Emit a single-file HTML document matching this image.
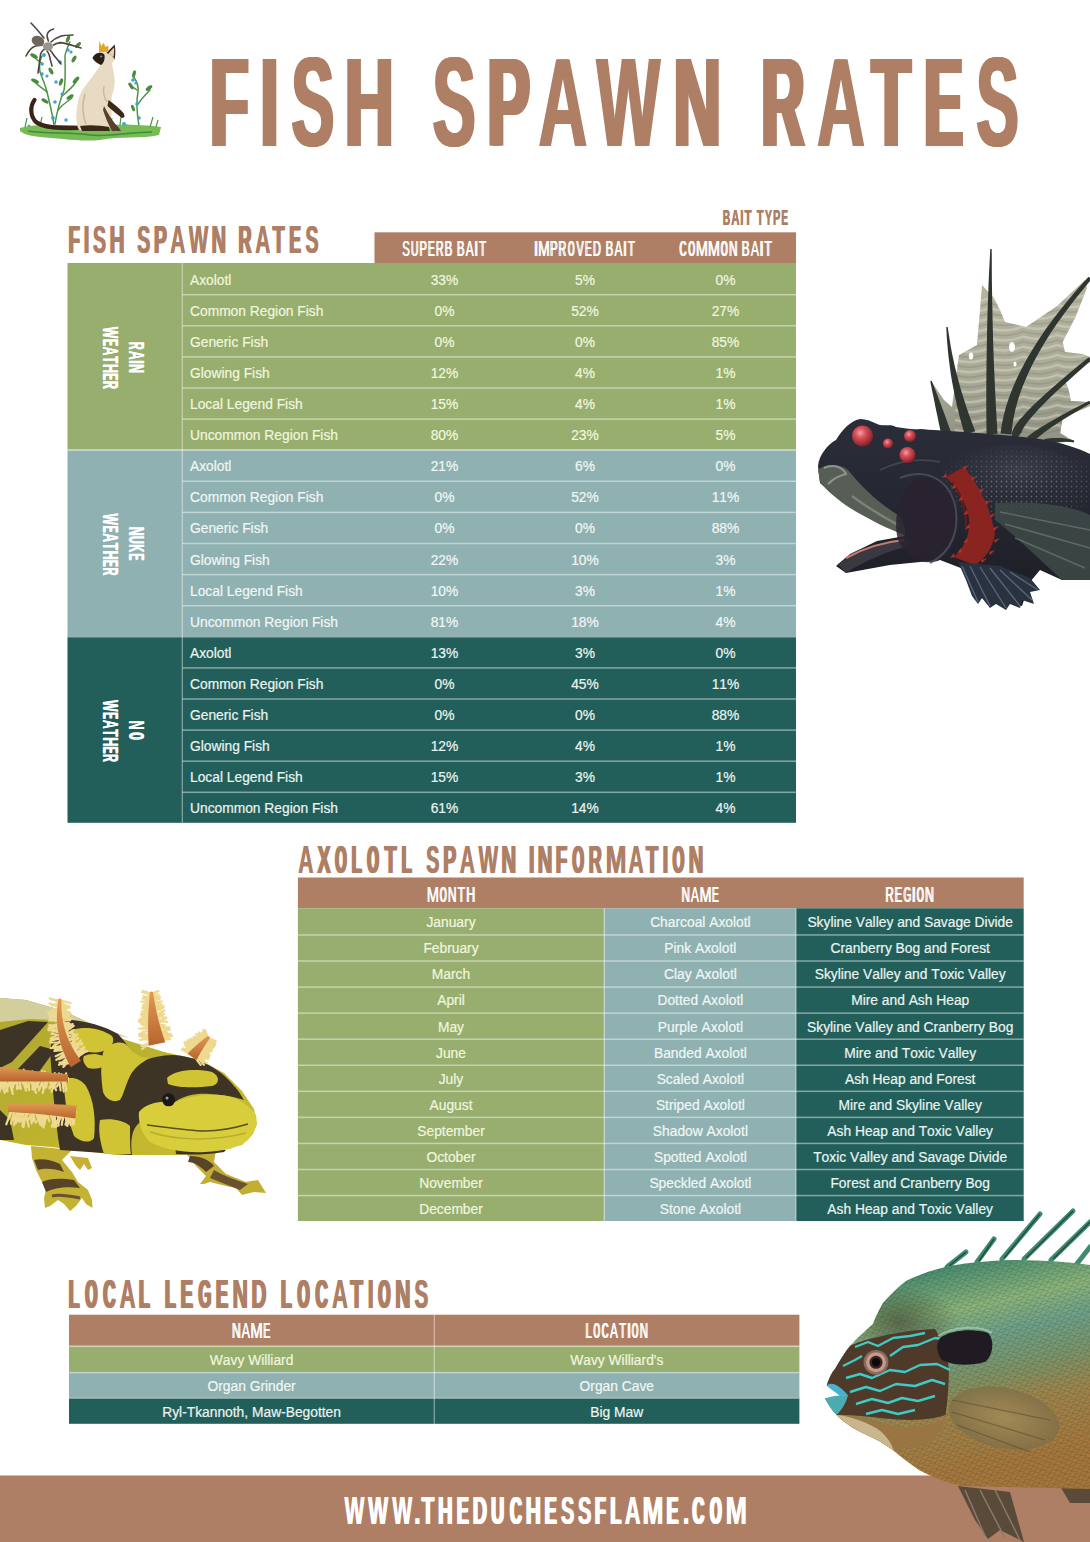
<!DOCTYPE html>
<html><head><meta charset="utf-8"><title>Fish Spawn Rates</title>
<style>
html,body{margin:0;padding:0;background:#fff;}
.page{position:relative;width:1090px;height:1542px;overflow:hidden;background:#fff;}
svg{display:block;font-family:"Liberation Sans",sans-serif;}
svg text{font-kerning:none;}
</style></head><body><div class="page">
<svg width="1090" height="1542" viewBox="0 0 1090 1542">
<g id="cat">
<!-- plant stems -->
<g stroke="#4f9446" stroke-width="1.5" fill="none" stroke-linecap="round">
<path d="M54,125 C52,112 49,100 47,92 C45,84 42,78 40,72 C39,66 40,60 42,56"/>
<path d="M55,124 C57,112 60,100 64,90 C66,80 65,66 65,56 C66,50 68,46 70,42"/>
<path d="M47,92 C43,88 38,86 35,82"/>
<path d="M62,96 C67,92 72,88 76,82"/>
<path d="M58,110 C63,104 68,101 72,98"/>
<path d="M43,64 C40,62 37,60 34,57"/>
<path d="M139,126 C137,114 136,102 138,92 C139,86 136,80 133,76"/>
<path d="M138,104 C142,98 146,94 150,90"/>
<path d="M137,90 C134,88 131,86 129,84"/>
</g>
<g fill="#4b8b40">
<ellipse cx="35" cy="81" rx="4.2" ry="1.9" transform="rotate(25 35 81)"/>
<ellipse cx="34" cy="56" rx="4.2" ry="1.9" transform="rotate(30 34 56)"/>
<ellipse cx="76" cy="80" rx="4.2" ry="1.9" transform="rotate(-45 76 80)"/>
<ellipse cx="74" cy="59" rx="3.8" ry="1.8" transform="rotate(-60 74 59)"/>
<ellipse cx="68" cy="39" rx="3.8" ry="1.8" transform="rotate(-70 68 39)"/>
<ellipse cx="78" cy="45" rx="3.8" ry="1.8" transform="rotate(-45 78 45)"/>
<ellipse cx="51" cy="71" rx="3.8" ry="1.8" transform="rotate(60 51 71)"/>
<ellipse cx="45" cy="101" rx="4" ry="1.8" transform="rotate(30 45 101)"/>
<ellipse cx="70" cy="97" rx="4" ry="1.8" transform="rotate(-30 70 97)"/>
<ellipse cx="61" cy="82" rx="3.8" ry="1.8" transform="rotate(-70 61 82)"/>
<ellipse cx="149" cy="88" rx="4" ry="1.8" transform="rotate(-40 149 88)"/>
<ellipse cx="131" cy="86" rx="3.8" ry="1.7" transform="rotate(60 131 86)"/>
<ellipse cx="134" cy="74" rx="3.8" ry="1.7" transform="rotate(-75 134 74)"/>
<ellipse cx="133" cy="108" rx="3.5" ry="1.6" transform="rotate(70 133 108)"/>
</g>
<g fill="#3aa4d4">
<circle cx="44" cy="55" r="1.9"/><circle cx="42" cy="64" r="1.7"/><circle cx="42" cy="74" r="1.8"/><circle cx="47" cy="76" r="1.6"/>
<circle cx="60" cy="62" r="1.8"/><circle cx="68" cy="50" r="1.7"/><circle cx="71" cy="52" r="1.6"/><circle cx="56" cy="82" r="1.7"/>
<circle cx="55" cy="102" r="1.8"/><circle cx="53" cy="118" r="1.9"/><circle cx="66" cy="120" r="1.7"/><circle cx="62" cy="94" r="1.6"/>
<circle cx="29" cy="126" r="1.6"/><circle cx="133" cy="80" r="1.8"/><circle cx="136" cy="83" r="1.6"/><circle cx="137" cy="104" r="1.8"/>
<circle cx="139" cy="118" r="1.8"/><circle cx="124" cy="124" r="2"/><circle cx="127" cy="126" r="1.7"/><circle cx="136" cy="127" r="1.7"/>
</g>
<!-- spider -->
<g stroke="#4c433b" stroke-width="1.6" fill="none" stroke-linecap="round">
<path d="M31,23 C36,28 40,33 44,38"/>
<path d="M53.5,29 C50,30 47,32 47,36 C47.5,38 48,40 48.4,41"/>
<path d="M73,35 C68,35 63,35.5 60,36.5 C56,38 53,40 51,42"/>
<path d="M81,48 C74,46 66,43 60,42.6 C57,43 55,44 53.5,45"/>
<path d="M26,56 C28,52 31,48 34.3,46.5 C37,45.5 40,45.2 42,45.2"/>
<path d="M38,73 C39,66 40,58 40.7,53.5 C42,51 44,49 45.8,48.4"/>
<path d="M61,64 C58,60 55,57 53.5,54.8 C52,52 51,51 49.7,49.7"/>
<path d="M52,66 C51,62 50,59 49.7,56.7 C49,54 48,52 47,51"/>
</g>
<ellipse cx="38" cy="41" rx="6.5" ry="5" fill="#6e665c" transform="rotate(20 38 41)"/>
<ellipse cx="48" cy="46.5" rx="5" ry="4.2" fill="#9b948a"/>
<!-- grass -->
<path d="M20,128 C32,124 50,125 72,125 C100,126 130,123 161,127 L159,135 C142,139 120,136 100,140 C80,142 58,138 40,137 C30,136 23,134 20,131 Z" fill="#76bb54"/>
<path d="M28,131 C48,134 70,132 90,135 C110,137 130,132 152,132" stroke="#3f8d3c" stroke-width="1.5" fill="none"/>
<path d="M25,127 L27,118 M40,126 L42,117 M150,127 L153,117 M120,125 L121,116 M110,126 L112,118 M156,127 L158,120" stroke="#4a9a44" stroke-width="1.2"/>
<!-- tail -->
<path d="M34.5,100 C30,106 30,116 36,122 C44,128 60,128.5 78,128" stroke="#3a2418" stroke-width="4.2" fill="none" stroke-linecap="round"/>
<!-- cat body -->
<path d="M100.5,65 C96,72 88,82 82.5,90 C77.5,98 76,110 76.5,120 C77,126 78,129 80,130.5 L109,130.5 C112,120 112,108 111.5,97 C114,90 115,85 114.7,80 C114,72 112.5,66 111.5,62 Z" fill="#e8dbc4"/>
<path d="M85,94 C82,104 82,114 86,124" stroke="#cdb89c" stroke-width="1.6" fill="none"/>
<path d="M104,86 C103,92 104,98 107,102" stroke="#cdb89c" stroke-width="1.4" fill="none"/>
<!-- legs dark -->
<path d="M108.5,100 C114,104 119,108 122.5,112 C125.5,115 125,118 122,118 C118,115 112,110 107.5,106 Z" fill="#3a2818"/>
<path d="M104,106 C108,114 113,122 119,128 L121,131 L112,131 C108,124 105,116 103,110 Z" fill="#5a4030"/>
<path d="M80,126 C90,124.5 100,125.5 109,127 L110,131 L82,131 Z" fill="#3a2818"/>
<!-- head -->
<path d="M92.4,57.7 C94,55 96,53.5 98,53 C101,52 104,52 106.3,53 C109,50 112,47 114.7,44.4 C115.5,49 115.5,55 114.7,59.6 C113,62 112,63.5 111.5,64.2 C108,65.5 104,66 101,65.5 C97,63.5 94,61 92.4,57.7 Z" fill="#e8dbc4"/>
<path d="M92.4,57.7 C94,55 96,53.5 98,53 C101,52.5 103.5,53 104.5,55 C105,59 104,63 101,65 C97,63 94,61 92.4,57.7 Z" fill="#2e1e16"/>
<path d="M106.3,53 C109,50 112,47 114.7,44.4 C115.5,49 115.5,55 114.7,59.6 C113,56 111,54 106.3,53 Z" fill="#3a2818"/>
<path d="M108.5,53.5 C110.5,51 112.5,49 114,47.5 C114.3,51 114,54 113.5,57 C112,55.5 110,54 108.5,53.5 Z" fill="#e6d2b8"/>
<circle cx="101.2" cy="56.5" r="1.1" fill="#3aa4d4"/>
<!-- crown -->
<path d="M99,52.5 L99.2,40.5 L101.5,46 L103.7,42.8 L105.5,47 L108.3,45.5 L108.5,51.5 Z" fill="#e3a526"/>
</g>

<g fill="#ae7f65" font-family="Liberation Sans" font-weight="bold" font-size="125.73" style="font-kerning:none"><g transform="scale(0.49475,1)"><text x="420.29" y="146.00">F</text><text x="422.69" y="146.00">F</text><text x="425.08" y="146.00">F</text><text x="427.48" y="146.00">F</text><text x="429.88" y="146.00">F</text></g><g transform="scale(0.50000,1)"><text x="516.79" y="146.00">I</text><text x="519.11" y="146.00">I</text><text x="521.43" y="146.00">I</text><text x="523.76" y="146.00">I</text><text x="526.08" y="146.00">I</text></g><g transform="scale(0.50942,1)"><text x="569.18" y="146.00">S</text><text x="571.16" y="146.00">S</text><text x="573.15" y="146.00">S</text><text x="575.13" y="146.00">S</text></g><g transform="scale(0.54292,1)"><text x="631.27" y="146.00">H</text><text x="633.06" y="146.00">H</text><text x="634.84" y="146.00">H</text><text x="636.62" y="146.00">H</text><text x="638.40" y="146.00">H</text></g><g transform="scale(0.50942,1)"><text x="846.56" y="146.00">S</text><text x="848.54" y="146.00">S</text><text x="850.52" y="146.00">S</text><text x="852.50" y="146.00">S</text></g><g transform="scale(0.50333,1)"><text x="964.31" y="146.00">P</text><text x="966.58" y="146.00">P</text><text x="968.86" y="146.00">P</text><text x="971.14" y="146.00">P</text><text x="973.42" y="146.00">P</text></g><g transform="scale(0.53836,1)"><text x="998.25" y="146.00">A</text><text x="1000.09" y="146.00">A</text><text x="1001.94" y="146.00">A</text></g><g transform="scale(0.53277,1)"><text x="1117.81" y="146.00">W</text><text x="1119.37" y="146.00">W</text><text x="1120.94" y="146.00">W</text><text x="1122.51" y="146.00">W</text></g><g transform="scale(0.52142,1)"><text x="1287.85" y="146.00">N</text><text x="1289.89" y="146.00">N</text><text x="1291.94" y="146.00">N</text><text x="1293.98" y="146.00">N</text><text x="1296.02" y="146.00">N</text></g><g transform="scale(0.46514,1)"><text x="1632.18" y="146.00">R</text><text x="1634.45" y="146.00">R</text><text x="1636.72" y="146.00">R</text><text x="1638.99" y="146.00">R</text><text x="1641.26" y="146.00">R</text><text x="1643.53" y="146.00">R</text></g><g transform="scale(0.52887,1)"><text x="1542.79" y="146.00">A</text><text x="1544.67" y="146.00">A</text><text x="1546.56" y="146.00">A</text></g><g transform="scale(0.50597,1)"><text x="1718.64" y="146.00">T</text><text x="1720.88" y="146.00">T</text><text x="1723.12" y="146.00">T</text><text x="1725.36" y="146.00">T</text><text x="1727.61" y="146.00">T</text></g><g transform="scale(0.45010,1)"><text x="2048.45" y="146.00">E</text><text x="2050.92" y="146.00">E</text><text x="2053.39" y="146.00">E</text><text x="2055.85" y="146.00">E</text><text x="2058.32" y="146.00">E</text><text x="2060.79" y="146.00">E</text></g><g transform="scale(0.50146,1)"><text x="1944.30" y="146.00">S</text><text x="1946.32" y="146.00">S</text><text x="1948.33" y="146.00">S</text><text x="1950.34" y="146.00">S</text></g></g>
<g fill="#ae7f65" font-family="Liberation Sans" font-weight="bold" font-size="38.66" style="font-kerning:none"><g transform="scale(0.47341,1)"><text x="143.17" y="253.50">F</text><text x="144.88" y="253.50">F</text><text x="146.59" y="253.50">F</text></g><g transform="scale(0.50000,1)"><text x="166.29" y="253.50">I</text><text x="167.70" y="253.50">I</text><text x="169.12" y="253.50">I</text></g><g transform="scale(0.50527,1)"><text x="183.28" y="253.50">S</text><text x="185.12" y="253.50">S</text></g><g transform="scale(0.53473,1)"><text x="203.75" y="253.50">H</text><text x="204.95" y="253.50">H</text><text x="206.14" y="253.50">H</text></g><g transform="scale(0.50527,1)"><text x="270.73" y="253.50">S</text><text x="272.57" y="253.50">S</text></g><g transform="scale(0.49898,1)"><text x="307.09" y="253.50">P</text><text x="308.57" y="253.50">P</text><text x="310.05" y="253.50">P</text></g><g transform="scale(0.54043,1)"><text x="314.44" y="253.50">A</text><text x="315.57" y="253.50">A</text></g><g transform="scale(0.53030,1)"><text x="355.65" y="253.50">W</text><text x="357.11" y="253.50">W</text></g><g transform="scale(0.51768,1)"><text x="407.41" y="253.50">N</text><text x="408.74" y="253.50">N</text><text x="410.06" y="253.50">N</text></g><g transform="scale(0.46122,1)"><text x="515.55" y="253.50">R</text><text x="517.38" y="253.50">R</text><text x="519.21" y="253.50">R</text></g><g transform="scale(0.54043,1)"><text x="471.85" y="253.50">A</text><text x="472.98" y="253.50">A</text></g><g transform="scale(0.51035,1)"><text x="532.79" y="253.50">T</text><text x="534.18" y="253.50">T</text><text x="535.56" y="253.50">T</text></g><g transform="scale(0.44543,1)"><text x="647.79" y="253.50">E</text><text x="649.78" y="253.50">E</text><text x="651.78" y="253.50">E</text></g><g transform="scale(0.50527,1)"><text x="603.84" y="253.50">S</text><text x="605.68" y="253.50">S</text></g></g>
<g fill="#ae7f65" font-family="Liberation Sans" font-weight="bold" font-size="21.37" style="font-kerning:none"><g transform="scale(0.47207,1)"><text x="1530.76" y="225.00">B</text><text x="1532.35" y="225.00">B</text></g><g transform="scale(0.54001,1)"><text x="1353.84" y="225.00">A</text><text x="1354.46" y="225.00">A</text></g><g transform="scale(0.50000,1)"><text x="1479.84" y="225.00">I</text><text x="1481.40" y="225.00">I</text></g><g transform="scale(0.52526,1)"><text x="1417.02" y="225.00">T</text><text x="1418.14" y="225.00">T</text></g><g transform="scale(0.52526,1)"><text x="1440.24" y="225.00">T</text><text x="1441.36" y="225.00">T</text></g><g transform="scale(0.49112,1)"><text x="1556.99" y="225.00">Y</text><text x="1558.41" y="225.00">Y</text></g><g transform="scale(0.51472,1)"><text x="1501.07" y="225.00">P</text><text x="1502.28" y="225.00">P</text></g><g transform="scale(0.46140,1)"><text x="1692.72" y="225.00">E</text><text x="1694.43" y="225.00">E</text></g></g>
<rect x="374.50" y="232.30" width="421.50" height="30.70" fill="#ae7f65"/>
<g fill="#ffffff" font-family="Liberation Sans" font-weight="normal" font-size="22.53" style="font-kerning:none"><g transform="scale(0.50462,1)"><text x="796.80" y="256.50">S</text><text x="797.88" y="256.50">S</text></g><g transform="scale(0.45850,1)"><text x="895.18" y="256.50">U</text><text x="897.65" y="256.50">U</text></g><g transform="scale(0.49119,1)"><text x="852.79" y="256.50">P</text><text x="854.95" y="256.50">P</text></g><g transform="scale(0.42740,1)"><text x="1000.23" y="256.50">E</text><text x="1003.03" y="256.50">E</text></g><g transform="scale(0.46126,1)"><text x="943.95" y="256.50">R</text><text x="946.39" y="256.50">R</text></g><g transform="scale(0.49722,1)"><text x="893.33" y="256.50">B</text><text x="895.45" y="256.50">B</text></g><g transform="scale(0.49722,1)"><text x="918.04" y="256.50">B</text><text x="920.15" y="256.50">B</text></g><g transform="scale(0.52547,1)"><text x="886.09" y="256.50">A</text><text x="886.77" y="256.50">A</text></g><g transform="scale(0.50000,1)"><text x="948.08" y="256.50">I</text><text x="949.39" y="256.50">I</text><text x="950.70" y="256.50">I</text></g><g transform="scale(0.49031,1)"><text x="976.41" y="256.50">T</text><text x="978.58" y="256.50">T</text></g></g>
<g fill="#ffffff" font-family="Liberation Sans" font-weight="normal" font-size="22.53" style="font-kerning:none"><g transform="scale(0.50000,1)"><text x="1067.72" y="256.50">I</text><text x="1069.02" y="256.50">I</text><text x="1070.33" y="256.50">I</text></g><g transform="scale(0.61950,1)"><text x="867.89" y="256.50">M</text><text x="869.17" y="256.50">M</text></g><g transform="scale(0.49014,1)"><text x="1121.27" y="256.50">P</text><text x="1123.45" y="256.50">P</text></g><g transform="scale(0.46029,1)"><text x="1212.55" y="256.50">R</text><text x="1215.00" y="256.50">R</text></g><g transform="scale(0.36064,1)"><text x="1573.41" y="256.50">O</text><text x="1575.26" y="256.50">O</text><text x="1577.12" y="256.50">O</text></g><g transform="scale(0.47917,1)"><text x="1201.83" y="256.50">V</text><text x="1204.11" y="256.50">V</text></g><g transform="scale(0.42646,1)"><text x="1370.79" y="256.50">E</text><text x="1373.60" y="256.50">E</text></g><g transform="scale(0.48284,1)"><text x="1226.99" y="256.50">D</text><text x="1229.23" y="256.50">D</text></g><g transform="scale(0.49616,1)"><text x="1219.77" y="256.50">B</text><text x="1221.89" y="256.50">B</text></g><g transform="scale(0.52465,1)"><text x="1170.95" y="256.50">A</text><text x="1171.63" y="256.50">A</text></g><g transform="scale(0.50000,1)"><text x="1245.51" y="256.50">I</text><text x="1246.82" y="256.50">I</text><text x="1248.12" y="256.50">I</text></g><g transform="scale(0.48929,1)"><text x="1282.38" y="256.50">T</text><text x="1284.57" y="256.50">T</text></g></g>
<g fill="#ffffff" font-family="Liberation Sans" font-weight="normal" font-size="22.53" style="font-kerning:none"><g transform="scale(0.41956,1)"><text x="1618.17" y="256.50">C</text><text x="1619.61" y="256.50">C</text><text x="1621.06" y="256.50">C</text></g><g transform="scale(0.37638,1)"><text x="1827.27" y="256.50">O</text><text x="1829.01" y="256.50">O</text><text x="1830.74" y="256.50">O</text></g><g transform="scale(0.64322,1)"><text x="1081.43" y="256.50">M</text><text x="1082.59" y="256.50">M</text></g><g transform="scale(0.64322,1)"><text x="1100.07" y="256.50">M</text><text x="1101.23" y="256.50">M</text></g><g transform="scale(0.37638,1)"><text x="1913.94" y="256.50">O</text><text x="1915.67" y="256.50">O</text><text x="1917.40" y="256.50">O</text></g><g transform="scale(0.52347,1)"><text x="1391.57" y="256.50">N</text><text x="1393.47" y="256.50">N</text></g><g transform="scale(0.51766,1)"><text x="1432.03" y="256.50">B</text><text x="1433.98" y="256.50">B</text></g><g transform="scale(0.54131,1)"><text x="1386.80" y="256.50">A</text><text x="1387.46" y="256.50">A</text></g><g transform="scale(0.50000,1)"><text x="1518.73" y="256.50">I</text><text x="1520.10" y="256.50">I</text><text x="1521.48" y="256.50">I</text></g><g transform="scale(0.51013,1)"><text x="1497.90" y="256.50">T</text><text x="1499.91" y="256.50">T</text></g></g>
<rect x="67.50" y="263.00" width="728.50" height="186.60" fill="#97ae6f"/>
<text x="190.00" y="284.60" fill="#f1f6df" stroke="#f1f6df" stroke-width="0.2" text-anchor="start" font-size="13.80">Axolotl</text>
<text x="444.50" y="284.60" fill="#f1f6df" stroke="#f1f6df" stroke-width="0.2" text-anchor="middle" font-size="13.80">33%</text>
<text x="585.00" y="284.60" fill="#f1f6df" stroke="#f1f6df" stroke-width="0.2" text-anchor="middle" font-size="13.80">5%</text>
<text x="725.50" y="284.60" fill="#f1f6df" stroke="#f1f6df" stroke-width="0.2" text-anchor="middle" font-size="13.80">0%</text>
<text x="190.00" y="315.70" fill="#f1f6df" stroke="#f1f6df" stroke-width="0.2" text-anchor="start" font-size="13.80">Common Region Fish</text>
<text x="444.50" y="315.70" fill="#f1f6df" stroke="#f1f6df" stroke-width="0.2" text-anchor="middle" font-size="13.80">0%</text>
<text x="585.00" y="315.70" fill="#f1f6df" stroke="#f1f6df" stroke-width="0.2" text-anchor="middle" font-size="13.80">52%</text>
<text x="725.50" y="315.70" fill="#f1f6df" stroke="#f1f6df" stroke-width="0.2" text-anchor="middle" font-size="13.80">27%</text>
<rect x="182.30" y="293.95" width="613.70" height="1.50" fill="rgba(255,255,255,0.45)"/>
<text x="190.00" y="346.80" fill="#f1f6df" stroke="#f1f6df" stroke-width="0.2" text-anchor="start" font-size="13.80">Generic Fish</text>
<text x="444.50" y="346.80" fill="#f1f6df" stroke="#f1f6df" stroke-width="0.2" text-anchor="middle" font-size="13.80">0%</text>
<text x="585.00" y="346.80" fill="#f1f6df" stroke="#f1f6df" stroke-width="0.2" text-anchor="middle" font-size="13.80">0%</text>
<text x="725.50" y="346.80" fill="#f1f6df" stroke="#f1f6df" stroke-width="0.2" text-anchor="middle" font-size="13.80">85%</text>
<rect x="182.30" y="325.05" width="613.70" height="1.50" fill="rgba(255,255,255,0.45)"/>
<text x="190.00" y="377.90" fill="#f1f6df" stroke="#f1f6df" stroke-width="0.2" text-anchor="start" font-size="13.80">Glowing Fish</text>
<text x="444.50" y="377.90" fill="#f1f6df" stroke="#f1f6df" stroke-width="0.2" text-anchor="middle" font-size="13.80">12%</text>
<text x="585.00" y="377.90" fill="#f1f6df" stroke="#f1f6df" stroke-width="0.2" text-anchor="middle" font-size="13.80">4%</text>
<text x="725.50" y="377.90" fill="#f1f6df" stroke="#f1f6df" stroke-width="0.2" text-anchor="middle" font-size="13.80">1%</text>
<rect x="182.30" y="356.15" width="613.70" height="1.50" fill="rgba(255,255,255,0.45)"/>
<text x="190.00" y="409.00" fill="#f1f6df" stroke="#f1f6df" stroke-width="0.2" text-anchor="start" font-size="13.80">Local Legend Fish</text>
<text x="444.50" y="409.00" fill="#f1f6df" stroke="#f1f6df" stroke-width="0.2" text-anchor="middle" font-size="13.80">15%</text>
<text x="585.00" y="409.00" fill="#f1f6df" stroke="#f1f6df" stroke-width="0.2" text-anchor="middle" font-size="13.80">4%</text>
<text x="725.50" y="409.00" fill="#f1f6df" stroke="#f1f6df" stroke-width="0.2" text-anchor="middle" font-size="13.80">1%</text>
<rect x="182.30" y="387.25" width="613.70" height="1.50" fill="rgba(255,255,255,0.45)"/>
<text x="190.00" y="440.10" fill="#f1f6df" stroke="#f1f6df" stroke-width="0.2" text-anchor="start" font-size="13.80">Uncommon Region Fish</text>
<text x="444.50" y="440.10" fill="#f1f6df" stroke="#f1f6df" stroke-width="0.2" text-anchor="middle" font-size="13.80">80%</text>
<text x="585.00" y="440.10" fill="#f1f6df" stroke="#f1f6df" stroke-width="0.2" text-anchor="middle" font-size="13.80">23%</text>
<text x="725.50" y="440.10" fill="#f1f6df" stroke="#f1f6df" stroke-width="0.2" text-anchor="middle" font-size="13.80">5%</text>
<rect x="182.30" y="418.35" width="613.70" height="1.50" fill="rgba(255,255,255,0.45)"/>
<g transform="rotate(90)">
<g fill="#ffffff" font-family="Liberation Sans" font-weight="bold" font-size="22.82" style="font-kerning:none"><g transform="scale(0.47524,1)"><text x="718.63" y="-129.50">R</text><text x="720.30" y="-129.50">R</text></g><g transform="scale(0.54043,1)"><text x="648.93" y="-129.50">A</text><text x="649.60" y="-129.50">A</text></g><g transform="scale(0.50000,1)"><text x="719.93" y="-129.50">I</text><text x="721.60" y="-129.50">I</text></g><g transform="scale(0.53318,1)"><text x="682.29" y="-129.50">N</text><text x="683.42" y="-129.50">N</text></g></g>
<g fill="#ffffff" font-family="Liberation Sans" font-weight="bold" font-size="22.82" style="font-kerning:none"><g transform="scale(0.53030,1)"><text x="615.85" y="-103.10">W</text><text x="616.71" y="-103.10">W</text></g><g transform="scale(0.46193,1)"><text x="732.90" y="-103.10">E</text><text x="734.71" y="-103.10">E</text></g><g transform="scale(0.54043,1)"><text x="641.14" y="-103.10">A</text><text x="641.81" y="-103.10">A</text></g><g transform="scale(0.52582,1)"><text x="676.56" y="-103.10">T</text><text x="677.75" y="-103.10">T</text></g><g transform="scale(0.55023,1)"><text x="661.11" y="-103.10">H</text><text x="662.10" y="-103.10">H</text></g><g transform="scale(0.46193,1)"><text x="807.15" y="-103.10">E</text><text x="808.96" y="-103.10">E</text></g><g transform="scale(0.47524,1)"><text x="800.85" y="-103.10">R</text><text x="802.52" y="-103.10">R</text></g></g>
</g>
<rect x="67.50" y="449.60" width="728.50" height="186.60" fill="#8fb1b1"/>
<text x="190.00" y="471.20" fill="#f0f7f5" stroke="#f0f7f5" stroke-width="0.2" text-anchor="start" font-size="13.80">Axolotl</text>
<text x="444.50" y="471.20" fill="#f0f7f5" stroke="#f0f7f5" stroke-width="0.2" text-anchor="middle" font-size="13.80">21%</text>
<text x="585.00" y="471.20" fill="#f0f7f5" stroke="#f0f7f5" stroke-width="0.2" text-anchor="middle" font-size="13.80">6%</text>
<text x="725.50" y="471.20" fill="#f0f7f5" stroke="#f0f7f5" stroke-width="0.2" text-anchor="middle" font-size="13.80">0%</text>
<text x="190.00" y="502.30" fill="#f0f7f5" stroke="#f0f7f5" stroke-width="0.2" text-anchor="start" font-size="13.80">Common Region Fish</text>
<text x="444.50" y="502.30" fill="#f0f7f5" stroke="#f0f7f5" stroke-width="0.2" text-anchor="middle" font-size="13.80">0%</text>
<text x="585.00" y="502.30" fill="#f0f7f5" stroke="#f0f7f5" stroke-width="0.2" text-anchor="middle" font-size="13.80">52%</text>
<text x="725.50" y="502.30" fill="#f0f7f5" stroke="#f0f7f5" stroke-width="0.2" text-anchor="middle" font-size="13.80">11%</text>
<rect x="182.30" y="480.55" width="613.70" height="1.50" fill="rgba(255,255,255,0.45)"/>
<text x="190.00" y="533.40" fill="#f0f7f5" stroke="#f0f7f5" stroke-width="0.2" text-anchor="start" font-size="13.80">Generic Fish</text>
<text x="444.50" y="533.40" fill="#f0f7f5" stroke="#f0f7f5" stroke-width="0.2" text-anchor="middle" font-size="13.80">0%</text>
<text x="585.00" y="533.40" fill="#f0f7f5" stroke="#f0f7f5" stroke-width="0.2" text-anchor="middle" font-size="13.80">0%</text>
<text x="725.50" y="533.40" fill="#f0f7f5" stroke="#f0f7f5" stroke-width="0.2" text-anchor="middle" font-size="13.80">88%</text>
<rect x="182.30" y="511.65" width="613.70" height="1.50" fill="rgba(255,255,255,0.45)"/>
<text x="190.00" y="564.50" fill="#f0f7f5" stroke="#f0f7f5" stroke-width="0.2" text-anchor="start" font-size="13.80">Glowing Fish</text>
<text x="444.50" y="564.50" fill="#f0f7f5" stroke="#f0f7f5" stroke-width="0.2" text-anchor="middle" font-size="13.80">22%</text>
<text x="585.00" y="564.50" fill="#f0f7f5" stroke="#f0f7f5" stroke-width="0.2" text-anchor="middle" font-size="13.80">10%</text>
<text x="725.50" y="564.50" fill="#f0f7f5" stroke="#f0f7f5" stroke-width="0.2" text-anchor="middle" font-size="13.80">3%</text>
<rect x="182.30" y="542.75" width="613.70" height="1.50" fill="rgba(255,255,255,0.45)"/>
<text x="190.00" y="595.60" fill="#f0f7f5" stroke="#f0f7f5" stroke-width="0.2" text-anchor="start" font-size="13.80">Local Legend Fish</text>
<text x="444.50" y="595.60" fill="#f0f7f5" stroke="#f0f7f5" stroke-width="0.2" text-anchor="middle" font-size="13.80">10%</text>
<text x="585.00" y="595.60" fill="#f0f7f5" stroke="#f0f7f5" stroke-width="0.2" text-anchor="middle" font-size="13.80">3%</text>
<text x="725.50" y="595.60" fill="#f0f7f5" stroke="#f0f7f5" stroke-width="0.2" text-anchor="middle" font-size="13.80">1%</text>
<rect x="182.30" y="573.85" width="613.70" height="1.50" fill="rgba(255,255,255,0.45)"/>
<text x="190.00" y="626.70" fill="#f0f7f5" stroke="#f0f7f5" stroke-width="0.2" text-anchor="start" font-size="13.80">Uncommon Region Fish</text>
<text x="444.50" y="626.70" fill="#f0f7f5" stroke="#f0f7f5" stroke-width="0.2" text-anchor="middle" font-size="13.80">81%</text>
<text x="585.00" y="626.70" fill="#f0f7f5" stroke="#f0f7f5" stroke-width="0.2" text-anchor="middle" font-size="13.80">18%</text>
<text x="725.50" y="626.70" fill="#f0f7f5" stroke="#f0f7f5" stroke-width="0.2" text-anchor="middle" font-size="13.80">4%</text>
<rect x="182.30" y="604.95" width="613.70" height="1.50" fill="rgba(255,255,255,0.45)"/>
<rect x="67.50" y="449.45" width="728.50" height="1.50" fill="rgba(255,255,255,0.45)"/>
<g transform="rotate(90)">
<g fill="#ffffff" font-family="Liberation Sans" font-weight="bold" font-size="22.82" style="font-kerning:none"><g transform="scale(0.53318,1)"><text x="987.55" y="-129.50">N</text><text x="988.68" y="-129.50">N</text></g><g transform="scale(0.48017,1)"><text x="1115.39" y="-129.50">U</text><text x="1117.01" y="-129.50">U</text></g><g transform="scale(0.47969,1)"><text x="1134.06" y="-129.50">K</text><text x="1135.68" y="-129.50">K</text></g><g transform="scale(0.46193,1)"><text x="1197.14" y="-129.50">E</text><text x="1198.96" y="-129.50">E</text></g></g>
<g fill="#ffffff" font-family="Liberation Sans" font-weight="bold" font-size="22.82" style="font-kerning:none"><g transform="scale(0.53030,1)"><text x="967.73" y="-103.10">W</text><text x="968.59" y="-103.10">W</text></g><g transform="scale(0.46193,1)"><text x="1136.86" y="-103.10">E</text><text x="1138.67" y="-103.10">E</text></g><g transform="scale(0.54043,1)"><text x="986.42" y="-103.10">A</text><text x="987.09" y="-103.10">A</text></g><g transform="scale(0.52582,1)"><text x="1031.44" y="-103.10">T</text><text x="1032.63" y="-103.10">T</text></g><g transform="scale(0.55023,1)"><text x="1000.24" y="-103.10">H</text><text x="1001.24" y="-103.10">H</text></g><g transform="scale(0.46193,1)"><text x="1211.11" y="-103.10">E</text><text x="1212.92" y="-103.10">E</text></g><g transform="scale(0.47524,1)"><text x="1193.49" y="-103.10">R</text><text x="1195.16" y="-103.10">R</text></g></g>
</g>
<rect x="67.50" y="636.20" width="728.50" height="186.60" fill="#225f5a"/>
<text x="190.00" y="657.80" fill="#eaf4f0" stroke="#eaf4f0" stroke-width="0.2" text-anchor="start" font-size="13.80">Axolotl</text>
<text x="444.50" y="657.80" fill="#eaf4f0" stroke="#eaf4f0" stroke-width="0.2" text-anchor="middle" font-size="13.80">13%</text>
<text x="585.00" y="657.80" fill="#eaf4f0" stroke="#eaf4f0" stroke-width="0.2" text-anchor="middle" font-size="13.80">3%</text>
<text x="725.50" y="657.80" fill="#eaf4f0" stroke="#eaf4f0" stroke-width="0.2" text-anchor="middle" font-size="13.80">0%</text>
<text x="190.00" y="688.90" fill="#eaf4f0" stroke="#eaf4f0" stroke-width="0.2" text-anchor="start" font-size="13.80">Common Region Fish</text>
<text x="444.50" y="688.90" fill="#eaf4f0" stroke="#eaf4f0" stroke-width="0.2" text-anchor="middle" font-size="13.80">0%</text>
<text x="585.00" y="688.90" fill="#eaf4f0" stroke="#eaf4f0" stroke-width="0.2" text-anchor="middle" font-size="13.80">45%</text>
<text x="725.50" y="688.90" fill="#eaf4f0" stroke="#eaf4f0" stroke-width="0.2" text-anchor="middle" font-size="13.80">11%</text>
<rect x="182.30" y="667.15" width="613.70" height="1.50" fill="rgba(255,255,255,0.45)"/>
<text x="190.00" y="720.00" fill="#eaf4f0" stroke="#eaf4f0" stroke-width="0.2" text-anchor="start" font-size="13.80">Generic Fish</text>
<text x="444.50" y="720.00" fill="#eaf4f0" stroke="#eaf4f0" stroke-width="0.2" text-anchor="middle" font-size="13.80">0%</text>
<text x="585.00" y="720.00" fill="#eaf4f0" stroke="#eaf4f0" stroke-width="0.2" text-anchor="middle" font-size="13.80">0%</text>
<text x="725.50" y="720.00" fill="#eaf4f0" stroke="#eaf4f0" stroke-width="0.2" text-anchor="middle" font-size="13.80">88%</text>
<rect x="182.30" y="698.25" width="613.70" height="1.50" fill="rgba(255,255,255,0.45)"/>
<text x="190.00" y="751.10" fill="#eaf4f0" stroke="#eaf4f0" stroke-width="0.2" text-anchor="start" font-size="13.80">Glowing Fish</text>
<text x="444.50" y="751.10" fill="#eaf4f0" stroke="#eaf4f0" stroke-width="0.2" text-anchor="middle" font-size="13.80">12%</text>
<text x="585.00" y="751.10" fill="#eaf4f0" stroke="#eaf4f0" stroke-width="0.2" text-anchor="middle" font-size="13.80">4%</text>
<text x="725.50" y="751.10" fill="#eaf4f0" stroke="#eaf4f0" stroke-width="0.2" text-anchor="middle" font-size="13.80">1%</text>
<rect x="182.30" y="729.35" width="613.70" height="1.50" fill="rgba(255,255,255,0.45)"/>
<text x="190.00" y="782.20" fill="#eaf4f0" stroke="#eaf4f0" stroke-width="0.2" text-anchor="start" font-size="13.80">Local Legend Fish</text>
<text x="444.50" y="782.20" fill="#eaf4f0" stroke="#eaf4f0" stroke-width="0.2" text-anchor="middle" font-size="13.80">15%</text>
<text x="585.00" y="782.20" fill="#eaf4f0" stroke="#eaf4f0" stroke-width="0.2" text-anchor="middle" font-size="13.80">3%</text>
<text x="725.50" y="782.20" fill="#eaf4f0" stroke="#eaf4f0" stroke-width="0.2" text-anchor="middle" font-size="13.80">1%</text>
<rect x="182.30" y="760.45" width="613.70" height="1.50" fill="rgba(255,255,255,0.45)"/>
<text x="190.00" y="813.30" fill="#eaf4f0" stroke="#eaf4f0" stroke-width="0.2" text-anchor="start" font-size="13.80">Uncommon Region Fish</text>
<text x="444.50" y="813.30" fill="#eaf4f0" stroke="#eaf4f0" stroke-width="0.2" text-anchor="middle" font-size="13.80">61%</text>
<text x="585.00" y="813.30" fill="#eaf4f0" stroke="#eaf4f0" stroke-width="0.2" text-anchor="middle" font-size="13.80">14%</text>
<text x="725.50" y="813.30" fill="#eaf4f0" stroke="#eaf4f0" stroke-width="0.2" text-anchor="middle" font-size="13.80">4%</text>
<rect x="182.30" y="791.55" width="613.70" height="1.50" fill="rgba(255,255,255,0.45)"/>
<rect x="67.50" y="636.05" width="728.50" height="1.50" fill="rgba(255,255,255,0.45)"/>
<g transform="rotate(90)">
<g fill="#ffffff" font-family="Liberation Sans" font-weight="bold" font-size="22.82" style="font-kerning:none"><g transform="scale(0.53318,1)"><text x="1351.31" y="-129.50">N</text><text x="1352.44" y="-129.50">N</text></g><g transform="scale(0.38970,1)"><text x="1878.58" y="-129.50">O</text><text x="1881.34" y="-129.50">O</text></g></g>
<g fill="#ffffff" font-family="Liberation Sans" font-weight="bold" font-size="22.82" style="font-kerning:none"><g transform="scale(0.53030,1)"><text x="1319.60" y="-103.10">W</text><text x="1320.46" y="-103.10">W</text></g><g transform="scale(0.46193,1)"><text x="1540.82" y="-103.10">E</text><text x="1542.63" y="-103.10">E</text></g><g transform="scale(0.54043,1)"><text x="1331.70" y="-103.10">A</text><text x="1332.37" y="-103.10">A</text></g><g transform="scale(0.52582,1)"><text x="1386.31" y="-103.10">T</text><text x="1387.50" y="-103.10">T</text></g><g transform="scale(0.55023,1)"><text x="1339.38" y="-103.10">H</text><text x="1340.37" y="-103.10">H</text></g><g transform="scale(0.46193,1)"><text x="1615.07" y="-103.10">E</text><text x="1616.88" y="-103.10">E</text></g><g transform="scale(0.47524,1)"><text x="1586.14" y="-103.10">R</text><text x="1587.81" y="-103.10">R</text></g></g>
</g>
<rect x="181.70" y="263.00" width="1.20" height="559.80" fill="rgba(255,255,255,0.45)"/>
<g fill="#ae7f65" font-family="Liberation Sans" font-weight="bold" font-size="38.95" style="font-kerning:none"><g transform="scale(0.54043,1)"><text x="551.36" y="873.50">A</text><text x="552.50" y="873.50">A</text></g><g transform="scale(0.50367,1)"><text x="628.84" y="873.50">X</text><text x="630.30" y="873.50">X</text><text x="631.75" y="873.50">X</text></g><g transform="scale(0.37721,1)"><text x="885.88" y="873.50">O</text><text x="888.76" y="873.50">O</text><text x="891.64" y="873.50">O</text></g><g transform="scale(0.42862,1)"><text x="818.24" y="873.50">L</text><text x="820.43" y="873.50">L</text><text x="822.63" y="873.50">L</text></g><g transform="scale(0.37721,1)"><text x="971.25" y="873.50">O</text><text x="974.13" y="873.50">O</text><text x="977.01" y="873.50">O</text></g><g transform="scale(0.51035,1)"><text x="752.05" y="873.50">T</text><text x="753.44" y="873.50">T</text><text x="754.84" y="873.50">T</text></g><g transform="scale(0.42862,1)"><text x="934.94" y="873.50">L</text><text x="937.14" y="873.50">L</text><text x="939.33" y="873.50">L</text></g><g transform="scale(0.50527,1)"><text x="842.69" y="873.50">S</text><text x="844.55" y="873.50">S</text></g><g transform="scale(0.49898,1)"><text x="886.76" y="873.50">P</text><text x="888.25" y="873.50">P</text><text x="889.74" y="873.50">P</text></g><g transform="scale(0.54043,1)"><text x="850.05" y="873.50">A</text><text x="851.20" y="873.50">A</text></g><g transform="scale(0.53030,1)"><text x="901.94" y="873.50">W</text><text x="903.41" y="873.50">W</text></g><g transform="scale(0.51768,1)"><text x="967.53" y="873.50">N</text><text x="968.87" y="873.50">N</text><text x="970.20" y="873.50">N</text></g><g transform="scale(0.50000,1)"><text x="1056.42" y="873.50">I</text><text x="1057.84" y="873.50">I</text><text x="1059.27" y="873.50">I</text></g><g transform="scale(0.51768,1)"><text x="1037.48" y="873.50">N</text><text x="1038.82" y="873.50">N</text><text x="1040.16" y="873.50">N</text></g><g transform="scale(0.47341,1)"><text x="1172.61" y="873.50">F</text><text x="1174.33" y="873.50">F</text><text x="1176.06" y="873.50">F</text></g><g transform="scale(0.37721,1)"><text x="1514.87" y="873.50">O</text><text x="1517.75" y="873.50">O</text><text x="1520.63" y="873.50">O</text></g><g transform="scale(0.46122,1)"><text x="1274.64" y="873.50">R</text><text x="1276.48" y="873.50">R</text><text x="1278.33" y="873.50">R</text></g><g transform="scale(0.64436,1)"><text x="939.24" y="873.50">M</text><text x="940.28" y="873.50">M</text></g><g transform="scale(0.54043,1)"><text x="1162.48" y="873.50">A</text><text x="1163.62" y="873.50">A</text></g><g transform="scale(0.51035,1)"><text x="1264.48" y="873.50">T</text><text x="1265.88" y="873.50">T</text><text x="1267.28" y="873.50">T</text></g><g transform="scale(0.50000,1)"><text x="1324.14" y="873.50">I</text><text x="1325.57" y="873.50">I</text><text x="1327.00" y="873.50">I</text></g><g transform="scale(0.37721,1)"><text x="1780.69" y="873.50">O</text><text x="1783.57" y="873.50">O</text><text x="1786.45" y="873.50">O</text></g><g transform="scale(0.51768,1)"><text x="1329.04" y="873.50">N</text><text x="1330.37" y="873.50">N</text><text x="1331.71" y="873.50">N</text></g></g>
<rect x="297.90" y="877.50" width="725.80" height="30.80" fill="#ae7f65"/>
<g fill="#ffffff" font-family="Liberation Sans" font-weight="normal" font-size="22.38" style="font-kerning:none"><g transform="scale(0.65750,1)"><text x="648.50" y="901.80">M</text><text x="649.58" y="901.80">M</text></g><g transform="scale(0.38586,1)"><text x="1138.47" y="901.80">O</text><text x="1140.13" y="901.80">O</text><text x="1141.78" y="901.80">O</text></g><g transform="scale(0.53630,1)"><text x="834.28" y="901.80">N</text><text x="836.07" y="901.80">N</text></g><g transform="scale(0.52267,1)"><text x="875.03" y="901.80">T</text><text x="876.93" y="901.80">T</text></g><g transform="scale(0.55268,1)"><text x="842.70" y="901.80">H</text><text x="844.38" y="901.80">H</text></g></g>
<g fill="#ffffff" font-family="Liberation Sans" font-weight="normal" font-size="22.38" style="font-kerning:none"><g transform="scale(0.52222,1)"><text x="1304.12" y="901.80">N</text><text x="1306.02" y="901.80">N</text></g><g transform="scale(0.54034,1)"><text x="1278.33" y="901.80">A</text><text x="1278.98" y="901.80">A</text></g><g transform="scale(0.64184,1)"><text x="1089.34" y="901.80">M</text><text x="1090.50" y="901.80">M</text></g><g transform="scale(0.44457,1)"><text x="1600.27" y="901.80">E</text><text x="1602.86" y="901.80">E</text></g></g>
<g fill="#ffffff" font-family="Liberation Sans" font-weight="normal" font-size="22.38" style="font-kerning:none"><g transform="scale(0.50823,1)"><text x="1741.28" y="901.80">R</text><text x="1743.29" y="901.80">R</text></g><g transform="scale(0.47347,1)"><text x="1888.93" y="901.80">E</text><text x="1891.24" y="901.80">E</text></g><g transform="scale(0.43048,1)"><text x="2097.90" y="901.80">G</text><text x="2100.64" y="901.80">G</text></g><g transform="scale(0.50000,1)"><text x="1823.15" y="901.80">I</text><text x="1824.62" y="901.80">I</text><text x="1826.08" y="901.80">I</text></g><g transform="scale(0.39910,1)"><text x="2295.77" y="901.80">O</text><text x="2297.33" y="901.80">O</text><text x="2298.89" y="901.80">O</text></g><g transform="scale(0.55423,1)"><text x="1668.12" y="901.80">N</text><text x="1669.79" y="901.80">N</text></g></g>
<rect x="297.90" y="908.30" width="306.30" height="312.72" fill="#97ae6f"/>
<rect x="604.20" y="908.30" width="191.80" height="312.72" fill="#8fb1b1"/>
<rect x="796.00" y="908.30" width="227.70" height="312.72" fill="#225f5a"/>
<text x="451.00" y="927.30" fill="#f1f6df" stroke="#f1f6df" stroke-width="0.2" text-anchor="middle" font-size="13.80">January</text>
<text x="700.40" y="927.30" fill="#f0f7f5" stroke="#f0f7f5" stroke-width="0.2" text-anchor="middle" font-size="13.80">Charcoal Axolotl</text>
<text x="910.20" y="927.30" fill="#eaf4f0" stroke="#eaf4f0" stroke-width="0.2" text-anchor="middle" font-size="13.80">Skyline Valley and Savage Divide</text>
<text x="451.00" y="953.36" fill="#f1f6df" stroke="#f1f6df" stroke-width="0.2" text-anchor="middle" font-size="13.80">February</text>
<text x="700.40" y="953.36" fill="#f0f7f5" stroke="#f0f7f5" stroke-width="0.2" text-anchor="middle" font-size="13.80">Pink Axolotl</text>
<text x="910.20" y="953.36" fill="#eaf4f0" stroke="#eaf4f0" stroke-width="0.2" text-anchor="middle" font-size="13.80">Cranberry Bog and Forest</text>
<rect x="297.90" y="934.21" width="725.80" height="1.50" fill="rgba(255,255,255,0.45)"/>
<text x="451.00" y="979.42" fill="#f1f6df" stroke="#f1f6df" stroke-width="0.2" text-anchor="middle" font-size="13.80">March</text>
<text x="700.40" y="979.42" fill="#f0f7f5" stroke="#f0f7f5" stroke-width="0.2" text-anchor="middle" font-size="13.80">Clay Axolotl</text>
<text x="910.20" y="979.42" fill="#eaf4f0" stroke="#eaf4f0" stroke-width="0.2" text-anchor="middle" font-size="13.80">Skyline Valley and Toxic Valley</text>
<rect x="297.90" y="960.27" width="725.80" height="1.50" fill="rgba(255,255,255,0.45)"/>
<text x="451.00" y="1005.48" fill="#f1f6df" stroke="#f1f6df" stroke-width="0.2" text-anchor="middle" font-size="13.80">April</text>
<text x="700.40" y="1005.48" fill="#f0f7f5" stroke="#f0f7f5" stroke-width="0.2" text-anchor="middle" font-size="13.80">Dotted Axolotl</text>
<text x="910.20" y="1005.48" fill="#eaf4f0" stroke="#eaf4f0" stroke-width="0.2" text-anchor="middle" font-size="13.80">Mire and Ash Heap</text>
<rect x="297.90" y="986.33" width="725.80" height="1.50" fill="rgba(255,255,255,0.45)"/>
<text x="451.00" y="1031.54" fill="#f1f6df" stroke="#f1f6df" stroke-width="0.2" text-anchor="middle" font-size="13.80">May</text>
<text x="700.40" y="1031.54" fill="#f0f7f5" stroke="#f0f7f5" stroke-width="0.2" text-anchor="middle" font-size="13.80">Purple Axolotl</text>
<text x="910.20" y="1031.54" fill="#eaf4f0" stroke="#eaf4f0" stroke-width="0.2" text-anchor="middle" font-size="13.80">Skyline Valley and Cranberry Bog</text>
<rect x="297.90" y="1012.39" width="725.80" height="1.50" fill="rgba(255,255,255,0.45)"/>
<text x="451.00" y="1057.60" fill="#f1f6df" stroke="#f1f6df" stroke-width="0.2" text-anchor="middle" font-size="13.80">June</text>
<text x="700.40" y="1057.60" fill="#f0f7f5" stroke="#f0f7f5" stroke-width="0.2" text-anchor="middle" font-size="13.80">Banded Axolotl</text>
<text x="910.20" y="1057.60" fill="#eaf4f0" stroke="#eaf4f0" stroke-width="0.2" text-anchor="middle" font-size="13.80">Mire and Toxic Valley</text>
<rect x="297.90" y="1038.45" width="725.80" height="1.50" fill="rgba(255,255,255,0.45)"/>
<text x="451.00" y="1083.66" fill="#f1f6df" stroke="#f1f6df" stroke-width="0.2" text-anchor="middle" font-size="13.80">July</text>
<text x="700.40" y="1083.66" fill="#f0f7f5" stroke="#f0f7f5" stroke-width="0.2" text-anchor="middle" font-size="13.80">Scaled Axolotl</text>
<text x="910.20" y="1083.66" fill="#eaf4f0" stroke="#eaf4f0" stroke-width="0.2" text-anchor="middle" font-size="13.80">Ash Heap and Forest</text>
<rect x="297.90" y="1064.51" width="725.80" height="1.50" fill="rgba(255,255,255,0.45)"/>
<text x="451.00" y="1109.72" fill="#f1f6df" stroke="#f1f6df" stroke-width="0.2" text-anchor="middle" font-size="13.80">August</text>
<text x="700.40" y="1109.72" fill="#f0f7f5" stroke="#f0f7f5" stroke-width="0.2" text-anchor="middle" font-size="13.80">Striped Axolotl</text>
<text x="910.20" y="1109.72" fill="#eaf4f0" stroke="#eaf4f0" stroke-width="0.2" text-anchor="middle" font-size="13.80">Mire and Skyline Valley</text>
<rect x="297.90" y="1090.57" width="725.80" height="1.50" fill="rgba(255,255,255,0.45)"/>
<text x="451.00" y="1135.78" fill="#f1f6df" stroke="#f1f6df" stroke-width="0.2" text-anchor="middle" font-size="13.80">September</text>
<text x="700.40" y="1135.78" fill="#f0f7f5" stroke="#f0f7f5" stroke-width="0.2" text-anchor="middle" font-size="13.80">Shadow Axolotl</text>
<text x="910.20" y="1135.78" fill="#eaf4f0" stroke="#eaf4f0" stroke-width="0.2" text-anchor="middle" font-size="13.80">Ash Heap and Toxic Valley</text>
<rect x="297.90" y="1116.63" width="725.80" height="1.50" fill="rgba(255,255,255,0.45)"/>
<text x="451.00" y="1161.84" fill="#f1f6df" stroke="#f1f6df" stroke-width="0.2" text-anchor="middle" font-size="13.80">October</text>
<text x="700.40" y="1161.84" fill="#f0f7f5" stroke="#f0f7f5" stroke-width="0.2" text-anchor="middle" font-size="13.80">Spotted Axolotl</text>
<text x="910.20" y="1161.84" fill="#eaf4f0" stroke="#eaf4f0" stroke-width="0.2" text-anchor="middle" font-size="13.80">Toxic Valley and Savage Divide</text>
<rect x="297.90" y="1142.69" width="725.80" height="1.50" fill="rgba(255,255,255,0.45)"/>
<text x="451.00" y="1187.90" fill="#f1f6df" stroke="#f1f6df" stroke-width="0.2" text-anchor="middle" font-size="13.80">November</text>
<text x="700.40" y="1187.90" fill="#f0f7f5" stroke="#f0f7f5" stroke-width="0.2" text-anchor="middle" font-size="13.80">Speckled Axolotl</text>
<text x="910.20" y="1187.90" fill="#eaf4f0" stroke="#eaf4f0" stroke-width="0.2" text-anchor="middle" font-size="13.80">Forest and Cranberry Bog</text>
<rect x="297.90" y="1168.75" width="725.80" height="1.50" fill="rgba(255,255,255,0.45)"/>
<text x="451.00" y="1213.96" fill="#f1f6df" stroke="#f1f6df" stroke-width="0.2" text-anchor="middle" font-size="13.80">December</text>
<text x="700.40" y="1213.96" fill="#f0f7f5" stroke="#f0f7f5" stroke-width="0.2" text-anchor="middle" font-size="13.80">Stone Axolotl</text>
<text x="910.20" y="1213.96" fill="#eaf4f0" stroke="#eaf4f0" stroke-width="0.2" text-anchor="middle" font-size="13.80">Ash Heap and Toxic Valley</text>
<rect x="297.90" y="1194.81" width="725.80" height="1.50" fill="rgba(255,255,255,0.45)"/>
<rect x="603.60" y="908.30" width="1.20" height="312.72" fill="rgba(255,255,255,0.45)"/>
<rect x="795.40" y="908.30" width="1.20" height="312.72" fill="rgba(255,255,255,0.45)"/>
<g fill="#ae7f65" font-family="Liberation Sans" font-weight="bold" font-size="40.70" style="font-kerning:none"><g transform="scale(0.42862,1)"><text x="158.26" y="1308.10">L</text><text x="160.55" y="1308.10">L</text><text x="162.85" y="1308.10">L</text></g><g transform="scale(0.37721,1)"><text x="223.46" y="1308.10">O</text><text x="226.47" y="1308.10">O</text><text x="229.48" y="1308.10">O</text></g><g transform="scale(0.41700,1)"><text x="245.00" y="1308.10">C</text><text x="247.44" y="1308.10">C</text><text x="249.88" y="1308.10">C</text></g><g transform="scale(0.54043,1)"><text x="220.85" y="1308.10">A</text><text x="222.04" y="1308.10">A</text></g><g transform="scale(0.42862,1)"><text x="322.06" y="1308.10">L</text><text x="324.36" y="1308.10">L</text><text x="326.65" y="1308.10">L</text></g><g transform="scale(0.42862,1)"><text x="382.55" y="1308.10">L</text><text x="384.85" y="1308.10">L</text><text x="387.14" y="1308.10">L</text></g><g transform="scale(0.44543,1)"><text x="403.76" y="1308.10">E</text><text x="405.86" y="1308.10">E</text><text x="407.96" y="1308.10">E</text></g><g transform="scale(0.40181,1)"><text x="491.36" y="1308.10">G</text><text x="494.00" y="1308.10">G</text><text x="496.65" y="1308.10">G</text></g><g transform="scale(0.44543,1)"><text x="482.80" y="1308.10">E</text><text x="484.89" y="1308.10">E</text><text x="486.99" y="1308.10">E</text></g><g transform="scale(0.51768,1)"><text x="447.96" y="1308.10">N</text><text x="449.35" y="1308.10">N</text><text x="450.75" y="1308.10">N</text></g><g transform="scale(0.50579,1)"><text x="495.78" y="1308.10">D</text><text x="497.28" y="1308.10">D</text><text x="498.78" y="1308.10">D</text></g><g transform="scale(0.42862,1)"><text x="653.54" y="1308.10">L</text><text x="655.84" y="1308.10">L</text><text x="658.13" y="1308.10">L</text></g><g transform="scale(0.37721,1)"><text x="786.25" y="1308.10">O</text><text x="789.26" y="1308.10">O</text><text x="792.27" y="1308.10">O</text></g><g transform="scale(0.41700,1)"><text x="754.08" y="1308.10">C</text><text x="756.52" y="1308.10">C</text><text x="758.96" y="1308.10">C</text></g><g transform="scale(0.54043,1)"><text x="613.66" y="1308.10">A</text><text x="614.85" y="1308.10">A</text></g><g transform="scale(0.51035,1)"><text x="684.91" y="1308.10">T</text><text x="686.36" y="1308.10">T</text><text x="687.82" y="1308.10">T</text></g><g transform="scale(0.50000,1)"><text x="734.28" y="1308.10">I</text><text x="735.77" y="1308.10">I</text><text x="737.26" y="1308.10">I</text></g><g transform="scale(0.37721,1)"><text x="1000.23" y="1308.10">O</text><text x="1003.24" y="1308.10">O</text><text x="1006.25" y="1308.10">O</text></g><g transform="scale(0.51768,1)"><text x="761.97" y="1308.10">N</text><text x="763.37" y="1308.10">N</text><text x="764.77" y="1308.10">N</text></g><g transform="scale(0.50527,1)"><text x="819.57" y="1308.10">S</text><text x="821.51" y="1308.10">S</text></g></g>
<rect x="69.00" y="1314.70" width="730.40" height="31.10" fill="#ae7f65"/>
<rect x="69.00" y="1345.80" width="730.40" height="26.20" fill="#97ae6f"/>
<rect x="69.00" y="1372.00" width="730.40" height="25.60" fill="#8fb1b1"/>
<rect x="69.00" y="1397.60" width="730.40" height="26.20" fill="#225f5a"/>
<g fill="#ffffff" font-family="Liberation Sans" font-weight="normal" font-size="22.09" style="font-kerning:none"><g transform="scale(0.55071,1)"><text x="420.55" y="1338.40">N</text><text x="422.22" y="1338.40">N</text></g><g transform="scale(0.56261,1)"><text x="429.26" y="1338.40">A</text><text x="429.88" y="1338.40">A</text></g><g transform="scale(0.67354,1)"><text x="371.35" y="1338.40">M</text><text x="372.34" y="1338.40">M</text></g><g transform="scale(0.47029,1)"><text x="558.44" y="1338.40">E</text><text x="560.75" y="1338.40">E</text></g></g>
<g fill="#ffffff" font-family="Liberation Sans" font-weight="normal" font-size="22.09" style="font-kerning:none"><g transform="scale(0.48528,1)"><text x="1205.75" y="1338.40">L</text><text x="1207.92" y="1338.40">L</text></g><g transform="scale(0.36829,1)"><text x="1609.90" y="1338.40">O</text><text x="1611.66" y="1338.40">O</text><text x="1613.41" y="1338.40">O</text></g><g transform="scale(0.41061,1)"><text x="1464.21" y="1338.40">C</text><text x="1465.68" y="1338.40">C</text><text x="1467.15" y="1338.40">C</text></g><g transform="scale(0.53276,1)"><text x="1144.65" y="1338.40">A</text><text x="1145.30" y="1338.40">A</text></g><g transform="scale(0.49942,1)"><text x="1239.05" y="1338.40">T</text><text x="1241.10" y="1338.40">T</text></g><g transform="scale(0.50000,1)"><text x="1253.65" y="1338.40">I</text><text x="1254.96" y="1338.40">I</text><text x="1256.27" y="1338.40">I</text></g><g transform="scale(0.36829,1)"><text x="1714.17" y="1338.40">O</text><text x="1715.93" y="1338.40">O</text><text x="1717.69" y="1338.40">O</text></g><g transform="scale(0.51252,1)"><text x="1247.06" y="1338.40">N</text><text x="1249.01" y="1338.40">N</text></g></g>
<text x="251.60" y="1364.80" fill="#f1f6df" stroke="#f1f6df" stroke-width="0.2" text-anchor="middle" font-size="13.80">Wavy Williard</text>
<text x="616.80" y="1364.80" fill="#f1f6df" stroke="#f1f6df" stroke-width="0.2" text-anchor="middle" font-size="13.80">Wavy Williard&#39;s</text>
<text x="251.60" y="1391.00" fill="#f0f7f5" stroke="#f0f7f5" stroke-width="0.2" text-anchor="middle" font-size="13.80">Organ Grinder</text>
<text x="616.80" y="1391.00" fill="#f0f7f5" stroke="#f0f7f5" stroke-width="0.2" text-anchor="middle" font-size="13.80">Organ Cave</text>
<text x="251.60" y="1416.60" fill="#eaf4f0" stroke="#eaf4f0" stroke-width="0.2" text-anchor="middle" font-size="13.80">Ryl-Tkannoth, Maw-Begotten</text>
<text x="616.80" y="1416.60" fill="#eaf4f0" stroke="#eaf4f0" stroke-width="0.2" text-anchor="middle" font-size="13.80">Big Maw</text>
<rect x="69.00" y="1345.65" width="730.40" height="1.50" fill="rgba(255,255,255,0.45)"/>
<rect x="69.00" y="1371.85" width="730.40" height="1.50" fill="rgba(255,255,255,0.45)"/>
<rect x="69.00" y="1397.45" width="730.40" height="1.50" fill="rgba(255,255,255,0.45)"/>
<rect x="433.70" y="1314.70" width="1.20" height="109.10" fill="rgba(255,255,255,0.45)"/>
<g id="fish1">
<defs>
<linearGradient id="f1body" x1="0" y1="0" x2="0" y2="1">
<stop offset="0" stop-color="#2b2e3a"/><stop offset="0.55" stop-color="#23252f"/><stop offset="1" stop-color="#1c1d24"/>
</linearGradient>
<linearGradient id="f1fin" x1="0" y1="0" x2="0" y2="1">
<stop offset="0" stop-color="#b6b5a0"/><stop offset="0.6" stop-color="#a9a996"/><stop offset="1" stop-color="#8f9182"/>
</linearGradient>
<radialGradient id="f1eye" cx="0.4" cy="0.35" r="0.7">
<stop offset="0" stop-color="#f4a0a0"/><stop offset="0.35" stop-color="#d9505a"/><stop offset="1" stop-color="#7a1a22"/>
</radialGradient>
<radialGradient id="f1spk" cx="0.55" cy="0.35" r="0.6">
<stop offset="0" stop-color="#5d6270" stop-opacity="0.55"/><stop offset="1" stop-color="#2b2e3a" stop-opacity="0"/>
</radialGradient>
</defs>
<clipPath id="f1clip"><path d="M931,381 L944,400 L952,407 L957,370 L959,355 L977,345 L980,310 L982,285 L994,298 L1000,310 L1005,322 L1026,327 L1057,306 L1085,280 L1087,288 L1075.5,317 L1062.7,342 L1065,352 L1082.5,354 L1090,357 L1090,362 L1065,381 L1068.5,389 L1071,401 L1090,402 L1090,406 L1062.7,418 L1060.3,433 L1074,441.6 L1050,443 L944,433 Z"/></clipPath>
<path d="M931,381 L944,400 L952,407 L957,370 L959,355 L977,345 L980,310 L982,285 L994,298 L1000,310 L1005,322 L1026,327 L1057,306 L1085,280 L1087,288 L1075.5,317 L1062.7,342 L1065,352 L1082.5,354 L1090,357 L1090,362 L1065,381 L1068.5,389 L1071,401 L1090,402 L1090,406 L1062.7,418 L1060.3,433 L1074,441.6 L1050,443 L944,433 Z" fill="url(#f1fin)"/>
<path d="M955.0,300.0 Q972.0,305.1 989.0,298.3 Q1006.0,303.4 1023.0,296.6 Q1040.0,301.8 1057.0,294.9 Q1074.0,300.1 1091.0,293.2 M955.0,310.0 Q972.0,315.1 989.0,308.3 Q1006.0,313.4 1023.0,306.6 Q1040.0,311.8 1057.0,304.9 Q1074.0,310.1 1091.0,303.2 M955.0,320.0 Q972.0,325.1 989.0,318.3 Q1006.0,323.4 1023.0,316.6 Q1040.0,321.8 1057.0,314.9 Q1074.0,320.1 1091.0,313.2 M955.0,330.0 Q972.0,335.1 989.0,328.3 Q1006.0,333.4 1023.0,326.6 Q1040.0,331.8 1057.0,324.9 Q1074.0,330.1 1091.0,323.2 M955.0,340.0 Q972.0,345.1 989.0,338.3 Q1006.0,343.4 1023.0,336.6 Q1040.0,341.8 1057.0,334.9 Q1074.0,340.1 1091.0,333.2 M955.0,350.0 Q972.0,355.1 989.0,348.3 Q1006.0,353.4 1023.0,346.6 Q1040.0,351.8 1057.0,344.9 Q1074.0,350.1 1091.0,343.2 M955.0,360.0 Q972.0,365.1 989.0,358.3 Q1006.0,363.4 1023.0,356.6 Q1040.0,361.8 1057.0,354.9 Q1074.0,360.1 1091.0,353.2 M955.0,370.0 Q972.0,375.1 989.0,368.3 Q1006.0,373.4 1023.0,366.6 Q1040.0,371.8 1057.0,364.9 Q1074.0,370.1 1091.0,363.2 M955.0,380.0 Q972.0,385.1 989.0,378.3 Q1006.0,383.4 1023.0,376.6 Q1040.0,381.8 1057.0,374.9 Q1074.0,380.1 1091.0,373.2 M955.0,390.0 Q972.0,395.1 989.0,388.3 Q1006.0,393.4 1023.0,386.6 Q1040.0,391.8 1057.0,384.9 Q1074.0,390.1 1091.0,383.2 M955.0,400.0 Q972.0,405.1 989.0,398.3 Q1006.0,403.4 1023.0,396.6 Q1040.0,401.8 1057.0,394.9 Q1074.0,400.1 1091.0,393.2 M955.0,410.0 Q972.0,415.1 989.0,408.3 Q1006.0,413.4 1023.0,406.6 Q1040.0,411.8 1057.0,404.9 Q1074.0,410.1 1091.0,403.2 M955.0,420.0 Q972.0,425.1 989.0,418.3 Q1006.0,423.4 1023.0,416.6 Q1040.0,421.8 1057.0,414.9 Q1074.0,420.1 1091.0,413.2 M955.0,430.0 Q972.0,435.1 989.0,428.3 Q1006.0,433.4 1023.0,426.6 Q1040.0,431.8 1057.0,424.9 Q1074.0,430.1 1091.0,423.2" stroke="#dcdccb" stroke-width="2.6" fill="none" opacity="0.45" clip-path="url(#f1clip)"/>
<path d="M955.0,305.0 Q972.0,310.1 989.0,303.3 Q1006.0,308.4 1023.0,301.6 Q1040.0,306.8 1057.0,299.9 Q1074.0,305.1 1091.0,298.2 M955.0,315.0 Q972.0,320.1 989.0,313.3 Q1006.0,318.4 1023.0,311.6 Q1040.0,316.8 1057.0,309.9 Q1074.0,315.1 1091.0,308.2 M955.0,325.0 Q972.0,330.1 989.0,323.3 Q1006.0,328.4 1023.0,321.6 Q1040.0,326.8 1057.0,319.9 Q1074.0,325.1 1091.0,318.2 M955.0,335.0 Q972.0,340.1 989.0,333.3 Q1006.0,338.4 1023.0,331.6 Q1040.0,336.8 1057.0,329.9 Q1074.0,335.1 1091.0,328.2 M955.0,345.0 Q972.0,350.1 989.0,343.3 Q1006.0,348.4 1023.0,341.6 Q1040.0,346.8 1057.0,339.9 Q1074.0,345.1 1091.0,338.2 M955.0,355.0 Q972.0,360.1 989.0,353.3 Q1006.0,358.4 1023.0,351.6 Q1040.0,356.8 1057.0,349.9 Q1074.0,355.1 1091.0,348.2 M955.0,365.0 Q972.0,370.1 989.0,363.3 Q1006.0,368.4 1023.0,361.6 Q1040.0,366.8 1057.0,359.9 Q1074.0,365.1 1091.0,358.2 M955.0,375.0 Q972.0,380.1 989.0,373.3 Q1006.0,378.4 1023.0,371.6 Q1040.0,376.8 1057.0,369.9 Q1074.0,375.1 1091.0,368.2 M955.0,385.0 Q972.0,390.1 989.0,383.3 Q1006.0,388.4 1023.0,381.6 Q1040.0,386.8 1057.0,379.9 Q1074.0,385.1 1091.0,378.2 M955.0,395.0 Q972.0,400.1 989.0,393.3 Q1006.0,398.4 1023.0,391.6 Q1040.0,396.8 1057.0,389.9 Q1074.0,395.1 1091.0,388.2 M955.0,405.0 Q972.0,410.1 989.0,403.3 Q1006.0,408.4 1023.0,401.6 Q1040.0,406.8 1057.0,399.9 Q1074.0,405.1 1091.0,398.2 M955.0,415.0 Q972.0,420.1 989.0,413.3 Q1006.0,418.4 1023.0,411.6 Q1040.0,416.8 1057.0,409.9 Q1074.0,415.1 1091.0,408.2 M955.0,425.0 Q972.0,430.1 989.0,423.3 Q1006.0,428.4 1023.0,421.6 Q1040.0,426.8 1057.0,419.9 Q1074.0,425.1 1091.0,418.2 M955.0,435.0 Q972.0,440.1 989.0,433.3 Q1006.0,438.4 1023.0,431.6 Q1040.0,436.8 1057.0,429.9 Q1074.0,435.1 1091.0,428.2" stroke="#6e7062" stroke-width="1.6" fill="none" opacity="0.25" clip-path="url(#f1clip)"/>
<ellipse cx="1012" cy="347" rx="3" ry="5" fill="#fff"/><ellipse cx="971" cy="356" rx="2.2" ry="3.5" fill="#fff"/><ellipse cx="1015" cy="364" rx="1.6" ry="2.5" fill="#fff"/>
<path d="M950.8,431.6 L949.5,428.0 L948.2,424.4 L946.9,420.9 L945.7,417.4 L944.4,414.0 L943.2,410.7 L942.0,407.4 L940.8,404.2 L939.6,401.1 L938.4,398.0 L937.3,395.0 L936.1,392.0 L935.0,389.1 L933.9,386.3 L932.8,383.5 L931.7,380.8 L930.3,381.2 L930.8,384.1 L931.4,387.0 L932.0,390.0 L932.6,393.0 L933.3,396.1 L933.9,399.3 L934.6,402.5 L935.2,405.8 L935.9,409.1 L936.6,412.6 L937.4,416.0 L938.1,419.6 L938.8,423.2 L939.6,426.8 L940.4,430.6 L941.2,434.4 Z" fill="#2f3630"/>
<path d="M975.2,431.2 L972.7,424.7 L970.3,418.3 L968.0,411.8 L965.8,405.3 L963.7,398.8 L961.7,392.3 L959.8,385.8 L958.1,379.3 L956.4,372.8 L954.8,366.3 L953.4,359.8 L952.0,353.2 L950.8,346.7 L949.7,340.1 L948.7,333.5 L947.7,326.9 L946.3,327.1 L946.6,333.7 L947.0,340.4 L947.6,347.1 L948.2,353.8 L949.0,360.5 L949.9,367.2 L950.8,373.9 L951.9,380.7 L953.2,387.4 L954.5,394.2 L955.9,400.9 L957.5,407.7 L959.1,414.4 L960.9,421.2 L962.8,428.0 L964.8,434.8 Z" fill="#2f3630"/>
<path d="M997.5,433.8 L996.8,421.9 L996.1,410.1 L995.5,398.3 L994.9,386.5 L994.4,374.8 L993.9,363.2 L993.5,351.6 L993.1,340.0 L992.8,328.5 L992.5,317.0 L992.3,305.5 L992.1,294.1 L991.9,282.8 L991.8,271.5 L991.8,260.2 L991.7,249.0 L990.3,249.0 L989.7,260.2 L989.1,271.4 L988.6,282.7 L988.2,294.1 L987.8,305.5 L987.4,317.0 L987.1,328.5 L986.9,340.0 L986.7,351.6 L986.5,363.3 L986.4,375.0 L986.3,386.7 L986.3,398.5 L986.3,410.4 L986.4,422.3 L986.5,434.2 Z" fill="#2f3630"/>
<path d="M1011.5,434.5 L1012.3,426.2 L1013.6,417.7 L1015.5,409.1 L1017.9,400.2 L1020.9,391.1 L1024.5,381.9 L1028.6,372.4 L1033.3,362.8 L1038.6,353.0 L1044.4,343.0 L1050.8,332.8 L1057.8,322.4 L1065.4,311.9 L1073.5,301.2 L1082.2,290.4 L1091.5,279.3 L1088.5,276.7 L1078.8,287.5 L1069.7,298.2 L1061.2,308.7 L1053.2,319.1 L1045.7,329.3 L1038.8,339.4 L1032.5,349.4 L1026.7,359.2 L1021.5,368.9 L1016.8,378.5 L1012.7,388.0 L1009.1,397.3 L1006.1,406.5 L1003.7,415.6 L1001.8,424.6 L1000.5,433.5 Z" fill="#2f3630"/>
<path d="M1020.8,432.9 L1021.1,433.6 L1021.1,434.1 L1021.1,433.2 L1021.8,431.2 L1023.3,428.3 L1025.6,424.8 L1028.7,420.6 L1032.6,416.0 L1037.2,410.8 L1042.7,405.1 L1048.9,398.8 L1055.9,392.1 L1063.6,384.9 L1072.1,377.2 L1081.3,368.9 L1091.3,360.2 L1088.7,357.2 L1078.5,365.6 L1068.9,373.6 L1060.2,381.1 L1052.1,388.1 L1044.9,394.6 L1038.3,400.6 L1032.5,406.1 L1027.4,411.2 L1023.1,415.9 L1019.4,420.0 L1016.5,423.8 L1014.2,427.3 L1012.6,430.6 L1011.9,434.1 L1012.6,438.0 L1015.2,441.1 Z" fill="#2f3630"/>
<path d="M1032.9,442.7 L1034.1,441.3 L1035.5,439.8 L1037.4,438.1 L1039.5,436.2 L1042.0,434.2 L1044.8,432.0 L1048.0,429.7 L1051.5,427.3 L1055.3,424.8 L1059.4,422.1 L1063.8,419.3 L1068.6,416.3 L1073.6,413.3 L1079.0,410.1 L1084.7,406.8 L1090.7,403.3 L1089.3,400.7 L1083.1,403.9 L1077.2,406.9 L1071.7,409.8 L1066.4,412.7 L1061.5,415.3 L1056.9,417.9 L1052.5,420.4 L1048.5,422.7 L1044.8,424.9 L1041.4,427.0 L1038.3,428.9 L1035.5,430.8 L1033.0,432.6 L1030.7,434.2 L1028.7,435.8 L1027.1,437.3 Z" fill="#2f3630"/>
<path d="M1045.7,444.9 L1047.5,444.4 L1049.4,443.9 L1051.2,443.4 L1053.0,443.0 L1054.7,442.7 L1056.5,442.4 L1058.3,442.2 L1060.0,442.0 L1061.8,441.9 L1063.5,441.8 L1065.2,441.8 L1067.0,441.8 L1068.7,441.9 L1070.4,442.1 L1072.1,442.3 L1073.8,442.6 L1074.2,440.6 L1072.5,440.1 L1070.8,439.6 L1069.1,439.2 L1067.3,438.9 L1065.5,438.6 L1063.7,438.3 L1061.8,438.1 L1060.0,438.0 L1058.1,437.9 L1056.2,437.9 L1054.2,438.0 L1052.3,438.1 L1050.3,438.2 L1048.3,438.5 L1046.3,438.7 L1044.3,439.1 Z" fill="#2f3630"/>
<!-- body -->
<path d="M818,466 C819,455 828,444 836,440 C842,430 850,421 860,419 C868,419 874,423 880,425 C888,426 890,424 896,427 C905,428 912,430 920,429 C945,431 990,433 1040,439 C1060,442 1078,448 1090,454 L1090,580 L1062,580 L1040,570 L1030,582 L1022,606 L1000,600 L980,598 L966,570 L940,560 L890,565 L846,573 L836,566 L850,554 L877,541 L905,536 L896,528 L862,513 L837,498 L820,483 Z" fill="url(#f1body)"/>
<pattern id="f1dots" x="0" y="0" width="5" height="5" patternUnits="userSpaceOnUse"><circle cx="1.5" cy="1.5" r="0.9" fill="#9aa0b0"/><circle cx="4" cy="4" r="0.6" fill="#7a8090"/></pattern>
<radialGradient id="f1dmask" cx="0.5" cy="0.5" r="0.5"><stop offset="0" stop-color="#fff" stop-opacity="0.8"/><stop offset="0.7" stop-color="#fff" stop-opacity="0.35"/><stop offset="1" stop-color="#fff" stop-opacity="0"/></radialGradient>
<mask id="f1m"><ellipse cx="1020" cy="485" rx="90" ry="40" fill="url(#f1dmask)"/></mask>
<clipPath id="f1bclip"><path d="M818,466 C819,455 828,444 836,440 C842,430 850,421 860,419 C868,419 874,423 880,425 C888,426 890,424 896,427 C905,428 912,430 920,429 C945,431 990,433 1040,439 C1060,442 1078,448 1090,454 L1090,580 L940,560 Z"/></clipPath>
<g clip-path="url(#f1bclip)"><rect x="900" y="430" width="190" height="120" fill="url(#f1dots)" mask="url(#f1m)"/></g>
<ellipse cx="1010" cy="480" rx="75" ry="35" fill="url(#f1spk)" opacity="0.6"/>
<!-- head details -->
<path d="M818,470 C826,463 840,464 848,470 C860,485 880,505 900,516 C904,522 906,530 905,535 C890,530 870,520 850,508 C838,500 826,490 820,482 Z" fill="#575e55"/>
<path d="M824,468 C832,464 842,466 846,474 C838,476 832,480 828,484" stroke="#8d968a" stroke-width="2" fill="none"/>
<path d="M852,496 C868,508 885,518 900,526" stroke="#858c80" stroke-width="2.5" fill="none" opacity="0.8"/>
<path d="M838,564 C855,552 880,542 906,538 L912,545 C888,551 866,560 846,573 Z" fill="#3c3842"/>
<path d="M846,558 C862,549 884,542 904,540" stroke="#c27e72" stroke-width="2.2" fill="none"/>
<path d="M912,482 C932,472 950,482 956,502 C962,527 957,550 938,561 C920,566 905,556 898,540 C893,520 898,496 912,482 Z" fill="#2a2230" opacity="0.85"/>
<path d="M900,478 C925,468 948,478 955,505 C960,530 952,552 930,563" stroke="#4c5260" stroke-width="2" fill="none" opacity="0.8"/>
<path d="M880,470 C900,460 920,458 940,462" stroke="#4c5260" stroke-width="1.6" fill="none" opacity="0.7"/>
<!-- red gill band -->
<path d="M946,477 L964,467 C978,485 990,505 995,534 C992,550 984,560 974,565 L954,557 C966,545 970,534 969,520 C968,505 958,488 946,477 Z" fill="#8a2420"/>
<path d="M952,482 C962,495 967,510 966,530" stroke="#6a1a18" stroke-width="2" fill="none"/>
<path d="M963.0,467.0 l6,-2 l-5,5 Z M971.0,478.0 l6,-2 l-5,5 Z M979.0,490.0 l6,-2 l-5,5 Z M985.0,502.0 l6,-2 l-5,5 Z M990.0,515.0 l6,-2 l-5,5 Z M993.0,528.0 l6,-2 l-5,5 Z M994.0,540.0 l6,-2 l-5,5 Z M989.0,552.0 l6,-2 l-5,5 Z M981.0,560.0 l6,-2 l-5,5 Z M973.0,565.0 l6,-2 l-5,5 Z M947.0,477.0 l-5,1 l4,-5 Z M956.0,488.0 l-5,1 l4,-5 Z M963.0,500.0 l-5,1 l4,-5 Z M968.0,514.0 l-5,1 l4,-5 Z M970.0,528.0 l-5,1 l4,-5 Z M968.0,542.0 l-5,1 l4,-5 Z M962.0,552.0 l-5,1 l4,-5 Z M955.0,557.0 l-5,1 l4,-5 Z" fill="#a8302a"/>
<!-- lower right fin -->
<path d="M995,503 C1030,500 1070,505 1090,515 L1090,580 L1062,580 C1040,560 1015,535 995,520 Z" fill="#3f4a48" opacity="0.85"/>
<path d="M1000,512 L1090,530 M1005,524 L1090,548 M1015,538 L1085,568" stroke="#6a7a72" stroke-width="1.5" fill="none" opacity="0.7"/>
<!-- pectoral fin rays -->
<path d="M958,562 L966,580 L972,596 L978,604 L982,598 L990,608 L996,604 L1006,610 L1010,604 L1020,608 L1022,600 L1034,604 L1030,592 L1040,590 L1030,578 L1000,566 Z" fill="#2a3240"/>
<path d="M962,566 L978,602 M970,566 L990,606 M980,567 L1006,608 M990,568 L1020,606 M1000,570 L1032,600 M1010,572 L1038,590" stroke="#56667c" stroke-width="1.4" fill="none"/>
<!-- eyes -->
<circle cx="862.5" cy="436" r="10.5" fill="url(#f1eye)"/>
<circle cx="888" cy="443.5" r="5" fill="url(#f1eye)"/>
<circle cx="910" cy="436" r="6" fill="url(#f1eye)"/>
<circle cx="907.5" cy="455" r="8" fill="url(#f1eye)"/>

</g>
<g id="axolotl">
<defs>
<linearGradient id="axbody" x1="0" y1="0" x2="1" y2="1">
<stop offset="0" stop-color="#aea532"/><stop offset="0.6" stop-color="#bfb52e"/><stop offset="1" stop-color="#cabd2e"/>
</linearGradient>
<linearGradient id="axgill" x1="0" y1="0" x2="0" y2="1">
<stop offset="0" stop-color="#e09a50"/><stop offset="1" stop-color="#b8642e"/>
</linearGradient>
</defs>
<!-- legs -->
<path d="M286,1156 L295,1162 L300,1168 L92,1169 Z" fill="none"/>
<path d="M70,1156 L76,1166 L80,1170 L84,1164 L88,1170 L92,1168 L88,1158 Z" fill="#c8b032"/>
<path d="M31,1146 L72,1150 L62,1160 L72,1172 L78,1182 L88,1190 L92,1200 L92.5,1208 L86,1204 L82,1198 L76,1206 L70,1211 L64,1204 L58,1200 L50,1206 L45,1208 L44,1198 L46,1190 L42,1182 L36,1170 L32,1158 Z" fill="#c4b234"/>
<path d="M34,1160 C42,1158 52,1160 60,1164 L64,1172 C54,1168 44,1168 38,1170 Z" fill="#5a4428"/>
<path d="M42,1182 C50,1178 62,1178 74,1180 L80,1188 C66,1186 54,1188 46,1192 Z" fill="#5a4428"/>
<path d="M52,1196 C60,1194 70,1196 80,1198" stroke="#6a5230" stroke-width="3" fill="none"/>
<path d="M185,1152 L216,1150 L214,1162 L226,1174 L246,1182 L258,1180 L266,1193 L254,1192 L242,1195 L236,1188 L226,1186 L210,1182 L204,1184 L200,1184 L206,1176 L196,1166 Z" fill="#c2ae34"/>
<path d="M190,1156 C200,1156 210,1160 214,1166 L206,1172 C200,1166 194,1162 188,1162 Z" fill="#5a4428"/>
<path d="M214,1170 C224,1176 236,1180 248,1184 L240,1190 C230,1186 220,1182 210,1178 Z" fill="#6a5230"/>
<!-- body -->
<path d="M0,998 L26,1000 L64,1011 L85,1021 L123,1039 L164,1052 L200,1060 L224,1073 L242,1091 L254,1109 L257,1124 L253,1134 L242,1145 L218,1150 L180,1155 L116,1155 L77,1150 L51,1147 L26,1145 L0,1140 Z" fill="url(#axbody)"/>
<!-- pale back -->
<path d="M0,998 L26,1000 L64,1011 L85,1021 L130,1038 L100,1032 L60,1020 L30,1019 L0,1022 Z" fill="#d2cf9c"/>
<!-- dark stripes -->
<g fill="#3d3426">
<path d="M0,1030 L28,1021 L48,1022 L12,1062 L0,1068 Z"/>
<path d="M15,1072 L40,1046 L55,1050 L36,1076 Z"/>
<path d="M57,1020 C80,1018 105,1026 118,1034 C126,1042 132,1054 142,1060 C152,1058 162,1055 172,1055 C195,1056 218,1066 234,1086 C240,1092 243,1099 244,1100 C235,1097 225,1095 210,1094 C195,1093 185,1096 178,1100 C170,1106 166,1112 165,1116 C155,1118 145,1118 138,1124 C132,1130 130,1140 132,1155 L60,1150 C55,1120 52,1080 50,1050 Z"/>
<path d="M175,1146 C190,1144 210,1145 226,1150 L224,1152 C205,1155 190,1155 176,1154 Z"/>
<path d="M0,1110 L10,1120 L14,1140 L0,1140 Z"/>
</g>
<!-- yellow blobs -->
<g fill="#d0c434">
<path d="M72,1030 C85,1026 100,1028 112,1036 C116,1042 110,1050 100,1052 C88,1054 76,1050 72,1042 Z"/>
<path d="M84,1056 C92,1052 104,1054 108,1060 C106,1068 96,1070 88,1068 C84,1064 82,1060 84,1056 Z"/>
<path d="M104,1050 C112,1042 122,1040 128,1046 C134,1054 140,1058 150,1058 C142,1062 134,1068 130,1076 C125,1086 124,1094 120,1100 C114,1103 106,1100 103,1092 C101,1078 100,1060 104,1050 Z"/>
<path d="M64,1080 C70,1076 80,1078 86,1086 C94,1100 96,1120 94,1138 C90,1144 80,1142 74,1136 C68,1120 64,1100 64,1080 Z"/>
<path d="M100,1120 C110,1118 124,1120 130,1126 C130,1138 130,1148 131,1154 L104,1154 C100,1142 98,1130 100,1120 Z"/>
<path d="M167,1078 C175,1070 195,1068 212,1072 C220,1076 220,1084 212,1086 C195,1088 178,1088 168,1084 Z"/>
</g>
<!-- snout -->
<path d="M139,1112 C145,1104 160,1100 175,1102 C185,1098 200,1094 220,1095 C235,1096 248,1104 256,1115 C258,1125 254,1132 248,1140 C238,1148 225,1151 205,1152 C185,1153 165,1150 150,1142 C142,1134 138,1124 139,1112 Z" fill="#d8ce3c"/>
<path d="M147,1125 C170,1128 190,1131 205,1131 C222,1131 238,1127 248,1124" stroke="#5a4e24" stroke-width="1.6" fill="none"/>
<path d="M150,1132 C175,1140 210,1142 246,1133" stroke="#b8ac30" stroke-width="1.4" fill="none"/>
<circle cx="168.6" cy="1099.8" r="6.5" fill="#1c1818"/>
<circle cx="167" cy="1098" r="1.5" fill="#9a9aa8"/>
<!-- gills -->
<path d="M161.3,1040.6 L170.6,1036.1 M151.7,1042.5 L141.6,1045.9 M161.0,1039.6 L168.4,1039.1 M151.6,1041.4 L142.3,1048.9 M160.7,1038.6 L168.3,1035.1 M151.5,1040.3 L142.2,1037.3 M160.4,1037.5 L170.0,1039.1 M151.4,1039.2 L143.5,1039.5 M160.2,1036.5 L172.0,1036.0 M151.3,1038.1 L140.2,1039.8 M159.9,1035.4 L167.1,1035.4 M151.1,1036.9 L141.0,1036.1 M159.6,1034.4 L166.1,1031.9 M151.1,1035.8 L141.8,1033.9 M159.3,1033.3 L171.0,1034.0 M151.0,1034.7 L139.0,1034.1 M159.1,1032.3 L169.9,1029.4 M150.9,1033.6 L139.2,1036.1 M158.8,1031.2 L165.8,1032.8 M150.8,1032.4 L143.9,1036.3 M158.5,1030.1 L167.1,1032.9 M150.7,1031.3 L142.4,1031.5 M158.3,1029.0 L166.9,1027.9 M150.6,1030.1 L141.3,1033.0 M158.0,1028.0 L169.4,1027.3 M150.6,1029.0 L139.0,1028.5 M157.8,1026.9 L169.3,1029.4 M150.5,1027.9 L143.1,1027.6 M157.5,1025.8 L168.8,1028.4 M150.4,1026.7 L141.3,1024.1 M157.3,1024.7 L164.8,1025.3 M150.4,1025.6 L141.1,1023.6 M157.1,1023.6 L163.4,1021.4 M150.3,1024.4 L139.1,1021.8 M156.8,1022.5 L165.9,1017.2 M150.3,1023.2 L143.4,1024.7 M156.6,1021.3 L166.3,1018.1 M150.2,1022.1 L144.0,1020.4 M156.4,1020.2 L162.8,1020.3 M150.2,1020.9 L142.3,1020.1 M156.2,1019.1 L166.9,1022.1 M150.2,1019.7 L139.0,1020.9 M156.0,1018.0 L162.2,1016.1 M150.1,1018.6 L143.9,1018.6 M155.8,1016.8 L163.2,1013.7 M150.1,1017.4 L143.3,1017.3 M155.6,1015.7 L164.4,1010.3 M150.1,1016.2 L139.7,1019.2 M155.4,1014.6 L162.8,1016.9 M150.1,1015.0 L141.6,1016.1 M155.2,1013.4 L164.0,1013.9 M150.0,1013.9 L141.1,1014.1 M155.0,1012.3 L162.8,1015.2 M150.0,1012.7 L140.8,1014.1 M154.8,1011.1 L161.6,1008.7 M150.0,1011.5 L142.4,1008.2 M154.6,1010.0 L160.4,1009.8 M150.0,1010.3 L141.6,1011.6 M154.4,1008.8 L161.8,1004.3 M150.0,1009.1 L144.1,1008.7 M154.3,1007.6 L162.1,1008.1 M150.1,1007.9 L142.8,1007.1 M154.1,1006.4 L163.1,1007.8 M150.1,1006.7 L145.0,1009.7 M153.9,1005.3 L163.9,1006.4 M150.1,1005.5 L142.8,1007.8 M153.8,1004.1 L160.7,1004.3 M150.1,1004.3 L143.3,1005.6 M153.6,1002.9 L161.7,1001.4 M150.1,1003.1 L143.2,1004.8 M153.5,1001.7 L158.9,1002.9 M150.2,1001.8 L141.4,1001.7 M153.3,1000.5 L159.5,999.0 M150.2,1000.6 L144.0,999.0 M153.2,999.3 L160.0,996.8 M150.3,999.4 L144.6,998.5 M153.0,998.1 L159.6,996.7 M150.3,998.2 L143.4,996.1 M152.9,996.9 L158.6,998.8 M150.4,997.0 L142.4,998.5 M152.8,995.7 L159.4,998.2 M150.4,995.7 L145.0,997.4 M152.6,994.4 L158.6,994.5 M150.5,994.5 L142.1,992.1 M152.5,993.2 L158.4,991.1 M150.5,993.3 L143.0,991.0 M151.5,992.0 L151.5,992.0 M151.5,992.0 L151.5,992.0" stroke="#efd991" stroke-width="2.2" fill="none" stroke-linecap="round"/>
<path d="M165.3,1042.3 L164.5,1040.0 L163.7,1037.7 L162.9,1035.4 L162.2,1033.1 L161.5,1030.7 L160.7,1028.3 L160.0,1025.9 L159.4,1023.5 L158.7,1021.0 L158.1,1018.5 L157.5,1015.9 L156.9,1013.4 L156.3,1010.8 L155.8,1008.2 L155.3,1005.6 L154.8,1002.9 L154.3,1000.2 L153.8,997.5 L153.4,994.7 L153.0,992.0 L150.0,992.0 L149.7,994.8 L149.4,997.6 L149.2,1000.4 L149.0,1003.2 L148.8,1005.9 L148.6,1008.7 L148.5,1011.4 L148.3,1014.1 L148.2,1016.8 L148.2,1019.5 L148.1,1022.2 L148.1,1024.9 L148.1,1027.5 L148.1,1030.2 L148.1,1032.8 L148.2,1035.4 L148.3,1038.0 L148.4,1040.6 L148.5,1043.2 L148.7,1045.7 Z" fill="url(#axgill)"/>
<path d="M195.4,1057.8 L200.6,1064.8 M190.2,1054.0 L181.8,1049.6 M195.7,1057.3 L203.7,1062.3 M190.7,1053.6 L186.8,1046.6 M196.0,1056.8 L208.3,1058.6 M191.1,1053.1 L184.4,1042.2 M196.3,1056.3 L206.7,1063.1 M191.5,1052.6 L187.5,1045.4 M196.6,1055.8 L203.9,1064.9 M191.9,1052.2 L185.1,1045.0 M196.9,1055.3 L204.9,1059.1 M192.3,1051.7 L185.6,1049.1 M197.2,1054.8 L203.4,1060.5 M192.7,1051.3 L188.7,1045.5 M197.5,1054.3 L202.7,1063.6 M193.1,1050.9 L187.6,1040.4 M197.9,1053.8 L202.7,1062.5 M193.5,1050.4 L182.8,1048.5 M198.2,1053.3 L206.0,1056.1 M193.9,1050.0 L187.5,1042.9 M198.5,1052.8 L208.3,1059.3 M194.3,1049.5 L188.3,1043.6 M198.8,1052.3 L209.1,1057.0 M194.7,1049.1 L186.1,1042.5 M199.1,1051.9 L205.7,1055.7 M195.2,1048.7 L186.9,1041.5 M199.4,1051.4 L209.5,1055.1 M195.6,1048.2 L190.7,1038.6 M199.8,1050.9 L203.2,1056.4 M196.0,1047.8 L188.4,1039.8 M200.1,1050.4 L207.7,1052.2 M196.4,1047.4 L188.2,1043.4 M200.4,1049.9 L207.6,1055.0 M196.8,1047.0 L193.2,1041.7 M200.7,1049.5 L207.5,1051.2 M197.2,1046.5 L190.9,1044.5 M201.1,1049.0 L205.2,1058.8 M197.7,1046.1 L189.2,1043.7 M201.4,1048.5 L208.2,1052.4 M198.1,1045.7 L190.0,1040.7 M201.7,1048.0 L207.3,1053.7 M198.5,1045.3 L191.3,1042.3 M202.1,1047.6 L210.5,1050.5 M198.9,1044.9 L194.1,1038.5 M202.4,1047.1 L209.0,1049.1 M199.3,1044.5 L191.8,1039.5 M202.7,1046.6 L207.0,1053.3 M199.8,1044.1 L195.0,1036.3 M203.1,1046.2 L209.3,1050.9 M200.2,1043.7 L193.1,1037.5 M203.4,1045.7 L210.8,1051.3 M200.6,1043.2 L195.1,1038.8 M203.7,1045.2 L210.4,1051.6 M201.0,1042.8 L193.5,1040.5 M204.1,1044.8 L212.0,1050.9 M201.5,1042.4 L198.5,1035.5 M204.4,1044.3 L208.5,1053.0 M201.9,1042.1 L194.9,1038.3 M204.7,1043.9 L213.7,1047.2 M202.3,1041.7 L196.1,1033.9 M205.1,1043.4 L209.6,1051.0 M202.7,1041.3 L198.1,1034.4 M205.4,1043.0 L213.3,1045.8 M203.2,1040.9 L197.1,1039.3 M205.8,1042.5 L208.8,1047.4 M203.6,1040.5 L197.9,1038.5 M206.1,1042.0 L208.8,1047.8 M204.0,1040.1 L195.0,1037.6 M206.5,1041.6 L215.1,1045.0 M204.5,1039.7 L198.9,1032.3 M206.8,1041.2 L209.7,1048.7 M204.9,1039.3 L202.1,1034.5 M207.2,1040.7 L211.1,1047.3 M205.3,1039.0 L202.0,1034.1 M207.5,1040.3 L212.5,1048.3 M205.8,1038.6 L199.3,1036.4 M207.9,1039.8 L213.9,1046.4 M206.2,1038.2 L200.9,1035.2 M208.2,1039.4 L215.1,1043.3 M206.6,1037.8 L203.0,1031.9 M208.6,1038.9 L214.1,1043.1 M207.1,1037.5 L201.4,1033.4 M208.9,1038.5 L215.7,1041.1 M207.5,1037.1 L205.3,1030.5 M209.3,1038.1 L212.2,1043.0 M207.9,1036.7 L203.3,1029.9 M209.0,1037.0 L209.0,1037.0 M209.0,1037.0 L209.0,1037.0" stroke="#efd991" stroke-width="2.2" fill="none" stroke-linecap="round"/>
<path d="M196.4,1060.2 L197.1,1059.1 L197.7,1057.9 L198.3,1056.7 L199.0,1055.6 L199.6,1054.4 L200.2,1053.3 L200.9,1052.1 L201.6,1051.0 L202.2,1049.9 L202.9,1048.8 L203.6,1047.7 L204.3,1046.6 L205.0,1045.5 L205.7,1044.4 L206.4,1043.3 L207.1,1042.3 L207.8,1041.2 L208.6,1040.1 L209.3,1039.1 L210.1,1038.1 L207.9,1035.9 L206.9,1036.7 L205.8,1037.5 L204.8,1038.3 L203.8,1039.1 L202.7,1039.9 L201.7,1040.8 L200.7,1041.6 L199.6,1042.5 L198.6,1043.3 L197.6,1044.2 L196.6,1045.1 L195.6,1046.0 L194.5,1047.0 L193.5,1047.9 L192.5,1048.8 L191.5,1049.8 L190.5,1050.8 L189.5,1051.8 L188.5,1052.8 L187.6,1053.8 Z" fill="url(#axgill)"/>
<path d="M71.1,1062.8 L62.6,1064.1 M77.0,1059.2 L84.2,1049.0 M70.3,1061.4 L59.5,1062.7 M76.2,1057.9 L86.3,1051.1 M69.5,1060.0 L63.3,1066.9 M75.3,1056.6 L83.0,1048.3 M68.8,1058.6 L61.9,1064.3 M74.5,1055.4 L87.4,1051.1 M68.1,1057.1 L59.0,1064.8 M73.8,1054.1 L84.5,1047.0 M67.4,1055.7 L59.0,1059.2 M73.0,1052.8 L78.5,1047.6 M66.7,1054.3 L58.1,1058.8 M72.3,1051.5 L79.0,1044.7 M66.1,1052.8 L56.3,1059.9 M71.6,1050.2 L80.8,1040.5 M65.5,1051.4 L55.7,1056.2 M70.9,1048.9 L81.9,1043.3 M64.9,1050.0 L54.3,1051.0 M70.2,1047.6 L80.7,1042.7 M64.3,1048.5 L54.7,1048.9 M69.6,1046.3 L82.3,1044.1 M63.7,1047.1 L56.0,1050.5 M68.9,1044.9 L78.0,1038.0 M63.2,1045.6 L50.8,1048.1 M68.3,1043.6 L76.8,1043.4 M62.7,1044.1 L56.0,1049.4 M67.8,1042.3 L76.5,1035.4 M62.2,1042.7 L50.1,1042.4 M67.2,1040.9 L77.2,1034.3 M61.8,1041.2 L53.6,1045.8 M66.7,1039.6 L74.0,1038.9 M61.4,1039.7 L52.6,1047.4 M66.2,1038.2 L73.9,1033.8 M61.0,1038.3 L50.6,1040.5 M65.7,1036.9 L71.8,1030.7 M60.6,1036.8 L51.7,1040.0 M65.2,1035.5 L73.7,1030.1 M60.3,1035.3 L51.5,1033.6 M64.8,1034.1 L72.0,1032.5 M59.9,1033.8 L50.7,1038.5 M64.3,1032.7 L73.7,1025.9 M59.6,1032.3 L52.6,1031.1 M63.9,1031.3 L72.4,1033.2 M59.3,1030.9 L48.7,1030.2 M63.6,1029.9 L72.9,1025.8 M59.1,1029.4 L48.3,1029.8 M63.2,1028.5 L72.8,1024.1 M58.9,1027.9 L49.2,1025.1 M62.9,1027.1 L69.9,1026.1 M58.7,1026.4 L50.5,1027.8 M62.6,1025.7 L72.6,1026.3 M58.5,1024.9 L51.2,1025.4 M62.3,1024.3 L71.9,1024.3 M58.3,1023.4 L48.5,1028.1 M62.0,1022.9 L68.9,1023.1 M58.2,1021.9 L51.6,1019.7 M61.8,1021.4 L71.4,1018.7 M58.1,1020.3 L49.1,1020.4 M61.5,1020.0 L70.1,1020.4 M58.0,1018.8 L51.2,1020.7 M61.4,1018.6 L69.9,1013.7 M58.0,1017.3 L49.3,1015.7 M61.2,1017.1 L69.0,1018.5 M57.9,1015.8 L50.3,1018.0 M61.0,1015.6 L66.9,1017.6 M57.9,1014.3 L50.7,1014.5 M60.9,1014.2 L68.4,1016.0 M57.9,1012.7 L50.1,1014.2 M60.8,1012.7 L70.5,1012.9 M58.0,1011.2 L48.1,1012.7 M60.7,1011.2 L67.4,1008.5 M58.0,1009.7 L52.1,1012.1 M60.7,1009.7 L69.6,1012.4 M58.1,1008.2 L51.7,1010.1 M60.6,1008.2 L69.9,1007.7 M58.2,1006.6 L49.5,1003.4 M60.6,1006.7 L67.0,1007.6 M58.3,1005.1 L51.8,1005.4 M60.6,1005.2 L68.9,1005.9 M58.5,1003.5 L51.9,1005.1 M60.7,1003.7 L66.0,1005.7 M58.7,1002.0 L49.7,998.3 M60.7,1002.2 L67.0,1005.9 M58.9,1000.4 L50.8,999.2 M60.8,1000.6 L70.5,1003.0 M60.0,999.0 L60.0,999.0 M60.0,999.0 L60.0,999.0" stroke="#efd991" stroke-width="2.2" fill="none" stroke-linecap="round"/>
<path d="M81.0,1060.7 L79.0,1058.0 L77.1,1055.2 L75.2,1052.4 L73.5,1049.6 L72.0,1046.7 L70.5,1043.8 L69.1,1040.9 L67.8,1037.9 L66.7,1034.9 L65.6,1031.9 L64.7,1028.8 L63.9,1025.7 L63.2,1022.5 L62.6,1019.3 L62.1,1016.0 L61.8,1012.8 L61.5,1009.4 L61.4,1006.0 L61.4,1002.6 L61.5,999.2 L58.5,998.8 L57.9,1002.3 L57.5,1005.9 L57.2,1009.4 L57.0,1012.8 L56.9,1016.3 L56.9,1019.8 L57.1,1023.3 L57.4,1026.7 L57.8,1030.2 L58.4,1033.6 L59.0,1037.1 L59.8,1040.5 L60.8,1043.9 L61.8,1047.3 L63.0,1050.7 L64.4,1054.0 L65.8,1057.4 L67.4,1060.7 L69.1,1064.0 L71.0,1067.3 Z" fill="url(#axgill)"/>
<path d="M-2.4,1075.7 L-1.7,1069.0 M1.2,1075.7 L-1.9,1069.8 M4.9,1075.8 L5.8,1070.2 M8.5,1075.9 L8.7,1070.4 M12.2,1076.0 L10.5,1070.6 M15.8,1076.1 L13.5,1071.2 M19.5,1076.2 L20.3,1071.1 M23.2,1076.3 L23.7,1069.7 M26.9,1076.4 L28.5,1072.7 M30.6,1076.6 L32.3,1071.4 M34.3,1076.7 L32.4,1072.5 M38.0,1076.9 L37.1,1073.3 M41.7,1077.0 L42.2,1071.0 M45.4,1077.2 L44.7,1071.5 M49.2,1077.4 L50.0,1073.9 M53.0,1077.6 L54.8,1073.2 M56.7,1077.8 L59.0,1073.4 M60.5,1078.0 L61.6,1074.2 M64.3,1078.3 L66.1,1073.3 M68.0,1080.0 L68.0,1080.0" stroke="#efd991" stroke-width="2.2" fill="none" stroke-linecap="round"/>
<path d="M-6.0,1082.0 L-2.4,1081.9 L1.2,1081.9 L4.8,1081.8 L8.4,1081.8 L12.1,1081.7 L15.7,1081.7 L19.4,1081.7 L23.0,1081.7 L26.7,1081.7 L30.4,1081.7 L34.1,1081.8 L37.8,1081.8 L41.5,1081.9 L45.3,1081.9 L49.0,1082.0 L52.8,1082.1 L56.5,1082.2 L60.3,1082.3 L64.1,1082.4 L67.9,1082.5 L68.1,1077.5 L64.3,1077.2 L60.5,1077.0 L56.8,1076.7 L53.0,1076.5 L49.2,1076.3 L45.5,1076.0 L41.8,1075.8 L38.0,1075.6 L34.3,1075.4 L30.6,1075.3 L26.9,1075.1 L23.2,1074.9 L19.5,1074.8 L15.8,1074.6 L12.2,1074.5 L8.5,1074.4 L4.9,1074.3 L1.2,1074.2 L-2.4,1074.1 L-6.0,1074.0 Z" fill="url(#axgill)"/>
<path d="M-2.6,1078.6 L-6.7,1091.2 M-1.2,1078.6 L2.0,1087.8 M0.2,1078.6 L4.1,1088.8 M1.6,1078.7 L5.3,1091.3 M3.0,1078.7 L-0.4,1091.6 M4.4,1078.7 L4.7,1092.9 M5.8,1078.8 L7.6,1091.3 M7.2,1078.8 L3.5,1090.3 M8.6,1078.8 L12.8,1094.0 M10.0,1078.9 L6.9,1090.1 M11.5,1078.9 L12.4,1091.7 M12.9,1078.9 L11.3,1089.3 M14.3,1078.9 L18.7,1088.3 M15.7,1079.0 L12.5,1088.2 M17.1,1079.0 L17.0,1089.1 M18.6,1079.0 L20.9,1088.6 M20.0,1079.1 L20.4,1088.8 M21.4,1079.1 L25.2,1087.6 M22.9,1079.1 L26.1,1090.6 M24.3,1079.2 L27.5,1087.1 M25.7,1079.2 L25.7,1090.4 M27.1,1079.2 L24.9,1087.6 M28.6,1079.3 L29.0,1090.2 M30.0,1079.3 L36.0,1092.8 M31.5,1079.3 L33.4,1087.8 M32.9,1079.4 L32.6,1088.5 M34.3,1079.4 L32.5,1089.5 M35.8,1079.4 L38.4,1087.3 M37.2,1079.4 L34.5,1088.8 M38.7,1079.5 L35.0,1089.7 M40.1,1079.5 L35.6,1088.1 M41.6,1079.5 L43.4,1088.8 M43.0,1079.6 L38.8,1090.5 M44.5,1079.6 L45.3,1087.8 M45.9,1079.6 L42.7,1092.9 M47.4,1079.7 L46.3,1087.1 M48.8,1079.7 L52.1,1087.0 M50.3,1079.7 L52.4,1087.1 M51.7,1079.8 L56.1,1090.2 M53.2,1079.8 L49.5,1087.4 M54.7,1079.8 L49.6,1088.5 M56.1,1079.8 L51.7,1091.7 M57.6,1079.9 L54.1,1086.3 M59.1,1079.9 L60.6,1090.4 M60.5,1079.9 L56.9,1086.5 M62.0,1080.0 L63.8,1091.7 M63.5,1080.0 L66.4,1088.6 M64.9,1080.0 L66.1,1090.7 M66.4,1080.1 L62.8,1086.9 M68.0,1078.0 L68.0,1078.0" stroke="#efd991" stroke-width="2.2" fill="none" stroke-linecap="round"/>
<path d="M-6.4,1081.5 L-2.8,1081.5 L0.8,1081.5 L4.5,1081.5 L8.1,1081.5 L11.8,1081.5 L15.4,1081.5 L19.1,1081.5 L22.8,1081.5 L26.5,1081.5 L30.2,1081.5 L33.9,1081.5 L37.6,1081.5 L41.4,1081.5 L45.1,1081.5 L48.9,1081.5 L52.7,1081.5 L56.4,1081.5 L60.2,1081.5 L64.0,1081.5 L67.8,1081.5 L68.2,1074.5 L64.4,1074.1 L60.6,1073.7 L56.9,1073.3 L53.1,1072.9 L49.4,1072.5 L45.6,1072.1 L41.9,1071.7 L38.2,1071.3 L34.5,1070.9 L30.8,1070.5 L27.1,1070.1 L23.4,1069.7 L19.8,1069.3 L16.1,1068.9 L12.5,1068.5 L8.8,1068.1 L5.2,1067.7 L1.6,1067.3 L-2.0,1066.9 L-5.6,1066.5 Z" fill="url(#axgill)"/>
<path d="M11.2,1110.5 L6.3,1124.3 M12.4,1110.5 L7.0,1122.3 M13.7,1110.6 L14.6,1122.4 M14.9,1110.6 L10.9,1123.8 M16.2,1110.7 L18.6,1121.6 M17.4,1110.7 L14.0,1125.0 M18.7,1110.8 L15.8,1123.2 M20.0,1110.8 L19.8,1121.7 M21.2,1110.9 L18.9,1120.4 M22.5,1110.9 L22.6,1126.5 M23.8,1111.0 L21.7,1121.0 M25.0,1111.1 L28.7,1126.6 M26.3,1111.1 L23.5,1127.1 M27.6,1111.2 L22.5,1122.9 M28.9,1111.3 L22.6,1124.7 M30.2,1111.4 L31.6,1123.3 M31.4,1111.5 L36.0,1122.7 M32.7,1111.5 L28.0,1120.2 M34.0,1111.6 L32.9,1121.4 M35.3,1111.7 L40.3,1124.5 M36.6,1111.8 L38.5,1120.8 M37.9,1111.9 L41.8,1124.9 M39.2,1112.0 L38.0,1120.8 M40.5,1112.1 L43.8,1127.5 M41.8,1112.2 L44.6,1124.6 M43.2,1112.3 L43.4,1126.5 M44.5,1112.5 L42.1,1126.3 M45.8,1112.6 L44.8,1122.3 M47.1,1112.7 L49.4,1121.3 M48.4,1112.8 L44.9,1121.2 M49.8,1112.9 L55.6,1126.7 M51.1,1113.1 L54.3,1127.0 M52.4,1113.2 L56.2,1123.9 M53.8,1113.3 L56.5,1126.7 M55.1,1113.5 L52.7,1125.5 M56.5,1113.6 L51.8,1126.6 M57.8,1113.7 L58.6,1125.6 M59.2,1113.9 L58.9,1122.5 M60.5,1114.0 L55.7,1124.7 M61.9,1114.2 L58.3,1122.5 M63.2,1114.3 L61.8,1124.9 M64.6,1114.5 L62.0,1122.2 M65.9,1114.7 L66.5,1125.3 M67.3,1114.8 L70.8,1125.2 M68.7,1115.0 L65.4,1124.5 M70.0,1115.2 L67.3,1125.9 M71.4,1115.3 L73.1,1124.6 M72.8,1115.5 L67.5,1123.2 M74.2,1115.7 L73.9,1123.4 M76.0,1112.0 L76.0,1112.0" stroke="#efd991" stroke-width="2.2" fill="none" stroke-linecap="round"/>
<path d="M8.0,1112.0 L11.2,1112.1 L14.4,1112.3 L17.6,1112.5 L20.8,1112.7 L24.1,1112.9 L27.4,1113.1 L30.7,1113.4 L34.0,1113.6 L37.3,1113.9 L40.7,1114.2 L44.1,1114.6 L47.5,1114.9 L50.9,1115.3 L54.3,1115.7 L57.7,1116.1 L61.2,1116.5 L64.7,1117.0 L68.2,1117.5 L71.7,1117.9 L75.3,1118.5 L76.7,1105.5 L73.1,1105.3 L69.5,1105.0 L65.9,1104.8 L62.3,1104.6 L58.8,1104.4 L55.2,1104.2 L51.7,1104.1 L48.2,1104.0 L44.8,1103.8 L41.3,1103.8 L37.9,1103.7 L34.5,1103.6 L31.1,1103.6 L27.7,1103.6 L24.4,1103.6 L21.1,1103.7 L17.8,1103.7 L14.5,1103.8 L11.2,1103.9 L8.0,1104.0 Z" fill="url(#axgill)"/>
</g>

<rect x="0.00" y="1475.50" width="1090.00" height="66.50" fill="#ae7f65"/>
<g id="fish2">
<defs>
<linearGradient id="f2body" x1="0" y1="0" x2="0.25" y2="1">
<stop offset="0" stop-color="#2f6a55"/><stop offset="0.15" stop-color="#4f9070"/><stop offset="0.32" stop-color="#8cb47a"/><stop offset="0.45" stop-color="#6fa088"/><stop offset="0.6" stop-color="#7c9468"/><stop offset="0.75" stop-color="#a0844a"/><stop offset="1" stop-color="#a8763a"/>
</linearGradient>
<radialGradient id="f2fin" cx="0.5" cy="0.5" r="0.6">
<stop offset="0" stop-color="#a48c58"/><stop offset="1" stop-color="#7a6a44"/>
</radialGradient>
<linearGradient id="f2cheek" x1="0" y1="0" x2="0" y2="1">
<stop offset="0" stop-color="#8a6a40"/><stop offset="1" stop-color="#c8b48a"/>
</linearGradient>
<radialGradient id="f2fh" cx="0.5" cy="0.5" r="0.5"><stop offset="0" stop-color="#3a3a2a" stop-opacity="0.6"/><stop offset="1" stop-color="#3a3a2a" stop-opacity="0"/></radialGradient>
<pattern id="f2scales" x="0" y="0" width="7" height="6" patternUnits="userSpaceOnUse" patternTransform="rotate(-20)">
<path d="M0,3 Q3.5,-1 7,3 Q3.5,7 0,3 Z" fill="none" stroke="#1f3a30" stroke-width="0.9" opacity="0.3"/>
</pattern>
<clipPath id="f2clip"><path d="M906,1281 C920,1274 935,1269 950,1266 C970,1262 990,1261 1010,1260 C1040,1260 1070,1262 1090,1265 L1090,1489 L961,1486 C945,1482 930,1476 919,1470 C905,1460 900,1456 894,1451 C885,1445 880,1441 873,1438 C865,1434 858,1431 853,1428 C847,1424 840,1419 836.5,1415 C832,1410 828,1404 825,1398.6 L848,1395.3 L826.6,1385.4 C829,1378 832,1372 835,1369 C840,1360 845,1352 850,1346 C858,1337 866,1330 873,1324 C876,1316 880,1308 883,1303 C890,1295 898,1287 906,1281 Z"/></clipPath>
</defs>
<!-- dorsal spines -->
<g stroke="#3f8a70" stroke-width="5" stroke-linecap="round" fill="none">
<path d="M947,1267 L966,1252"/>
<path d="M977,1262 L994,1239"/>
<path d="M1002,1259 L1040,1214"/>
<path d="M1024,1259 L1073,1211"/>
<path d="M1051,1260 L1090,1222"/>
<path d="M1076,1265 L1090,1247"/>
</g>
<g stroke="#22503e" stroke-width="1.6" fill="none">
<path d="M949,1266 L966,1252"/><path d="M979,1261 L994,1239"/><path d="M1004,1258 L1040,1214"/><path d="M1026,1258 L1073,1211"/><path d="M1053,1259 L1090,1222"/>
</g>
<!-- pelvic fin -->
<path d="M958,1486 L975,1520 L988,1539 L1000,1530 L1024,1542 L1010,1492 Z" fill="#5a4a3a"/>
<path d="M965,1490 L985,1536 M980,1490 L1005,1538 M995,1490 L1020,1540" stroke="#8a7a68" stroke-width="1.5" fill="none"/>
<path d="M1060,1486 L1070,1503 L1090,1503 L1090,1486 Z" fill="#5a4a3a"/>
<!-- body -->
<path d="M906,1281 C920,1274 935,1269 950,1266 C970,1262 990,1261 1010,1260 C1040,1260 1070,1262 1090,1265 L1090,1489 L961,1486 C945,1482 930,1476 919,1470 C905,1460 900,1456 894,1451 C885,1445 880,1441 873,1438 C865,1434 858,1431 853,1428 C847,1424 840,1419 836.5,1415 C832,1410 828,1404 825,1398.6 L848,1395.3 L826.6,1385.4 C829,1378 832,1372 835,1369 C840,1360 845,1352 850,1346 C858,1337 866,1330 873,1324 C876,1316 880,1308 883,1303 C890,1295 898,1287 906,1281 Z" fill="url(#f2body)"/>
<g clip-path="url(#f2clip)">
<rect x="820" y="1255" width="270" height="240" fill="url(#f2scales)"/>
<!-- forehead darker -->
<ellipse cx="900" cy="1322" rx="60" ry="36" fill="url(#f2fh)"/>
<!-- head -->
<path d="M849.7,1345.8 C870,1337 905,1330 935,1329 C945,1345 950,1362 948.8,1378.8 C948,1395 947,1405 945.5,1415 C925,1422 900,1420 880,1418 C865,1416 850,1415 836.5,1415 L825,1398.6 L848,1395.3 L826.6,1385.4 C830,1375 838,1358 849.7,1345.8 Z" fill="#4f3a2a"/>
<!-- cheek -->
<path d="M836.5,1415 C850,1414 868,1418 888,1424 C905,1430 925,1428 946,1418 C944,1430 936,1440 925,1446 C910,1448 900,1446 894,1451 C885,1445 880,1441 873,1438 C858,1431 845,1424 836.5,1415 Z" fill="#9a7444" opacity="0.9"/>
<path d="M836.5,1415 C848,1416 862,1420 876,1428 C885,1434 890,1440 894,1451 C885,1445 880,1441 873,1438 C858,1431 845,1424 836.5,1415 Z" fill="#c9b68c"/>
</g>
<g stroke="#3fcac6" stroke-width="2.4" fill="none" stroke-linejoin="round">
<path d="M855,1347 L868,1342 L878,1346 L893,1338 L910,1336 L925,1333"/>
<path d="M843,1366 L855,1360 L862,1356"/>
<path d="M890,1356 L903,1347 L918,1345 L935,1338 L950,1340"/>
<path d="M846,1378 L860,1374 L872,1378 L890,1370 L905,1372 L920,1365 L937,1364 L950,1370"/>
<path d="M850,1392 L866,1387 L880,1391 L896,1384 L915,1386 L932,1380 L945,1384"/>
<path d="M856,1404 L872,1399 L888,1403 L902,1398 L918,1401 L935,1396"/>
<path d="M866,1414 L882,1410 L898,1414 L915,1410"/>
</g>
<path d="M826.6,1385.4 C832,1381 840,1386 848,1395.3 L840,1396 C836,1392 830,1389 826.6,1385.4 Z" fill="#4ab0d0"/>
<path d="M825,1398.6 C832,1396 840,1395 848,1395.3 C846,1403 842,1410 836.5,1415 C831,1410 828,1404 825,1398.6 Z" fill="#4aacb0"/>
<!-- eye -->
<circle cx="876" cy="1362.3" r="12.4" fill="#8a6a60"/>
<circle cx="876" cy="1362.3" r="10" fill="#c49a8a"/>
<circle cx="876" cy="1362.3" r="6.5" fill="#3a2422"/>
<circle cx="876" cy="1362.3" r="4" fill="#0c0a0a"/>
<!-- operculum spot -->
<path d="M940,1338 C950,1330 975,1328 988,1333 C995,1340 993,1356 985,1362 C970,1366 955,1366 942,1360 C936,1352 936,1344 940,1338 Z" fill="#201a22"/>
<path d="M938,1336 C955,1326 980,1325 992,1333" stroke="#b8d8c0" stroke-width="2" fill="none" opacity="0.6"/>
<!-- pectoral fin -->
<ellipse cx="1004" cy="1418" rx="56" ry="30" transform="rotate(12 1004 1418)" fill="url(#f2fin)" opacity="0.85"/>
<path d="M952,1400 L1050,1420 M952,1412 L1045,1440 M957,1425 L1030,1452" stroke="#5a4a30" stroke-width="1.2" fill="none" opacity="0.6"/>
</g>

<g fill="#ffffff" font-family="Liberation Sans" font-weight="bold" font-size="39.68" style="font-kerning:none"><g transform="scale(0.52732,1)"><text x="652.70" y="1523.60">W</text><text x="654.20" y="1523.60">W</text></g><g transform="scale(0.52999,1)"><text x="694.12" y="1523.60">W</text><text x="695.61" y="1523.60">W</text></g><g transform="scale(0.52732,1)"><text x="743.35" y="1523.60">W</text><text x="744.85" y="1523.60">W</text></g><g transform="scale(0.75008,1)"><text x="551.11" y="1523.60">.</text></g><g transform="scale(0.50984,1)"><text x="825.69" y="1523.60">T</text><text x="827.24" y="1523.60">T</text><text x="828.80" y="1523.60">T</text></g><g transform="scale(0.51097,1)"><text x="855.52" y="1523.60">H</text><text x="857.07" y="1523.60">H</text><text x="858.62" y="1523.60">H</text></g><g transform="scale(0.44114,1)"><text x="1033.75" y="1523.60">E</text><text x="1036.00" y="1523.60">E</text><text x="1038.24" y="1523.60">E</text></g><g transform="scale(0.49943,1)"><text x="945.02" y="1523.60">D</text><text x="946.67" y="1523.60">D</text><text x="948.32" y="1523.60">D</text></g><g transform="scale(0.45763,1)"><text x="1071.18" y="1523.60">U</text><text x="1073.24" y="1523.60">U</text><text x="1075.30" y="1523.60">U</text></g><g transform="scale(0.41030,1)"><text x="1240.40" y="1523.60">C</text><text x="1243.03" y="1523.60">C</text><text x="1245.66" y="1523.60">C</text></g><g transform="scale(0.52800,1)"><text x="994.32" y="1523.60">H</text><text x="995.72" y="1523.60">H</text><text x="997.13" y="1523.60">H</text></g><g transform="scale(0.44718,1)"><text x="1216.09" y="1523.60">E</text><text x="1218.26" y="1523.60">E</text><text x="1220.44" y="1523.60">E</text></g><g transform="scale(0.50243,1)"><text x="1115.62" y="1523.60">S</text><text x="1117.52" y="1523.60">S</text></g><g transform="scale(0.50664,1)"><text x="1139.90" y="1523.60">S</text><text x="1141.79" y="1523.60">S</text></g><g transform="scale(0.44393,1)"><text x="1338.33" y="1523.60">F</text><text x="1340.54" y="1523.60">F</text><text x="1342.76" y="1523.60">F</text></g><g transform="scale(0.43688,1)"><text x="1395.21" y="1523.60">L</text><text x="1397.50" y="1523.60">L</text><text x="1399.79" y="1523.60">L</text></g><g transform="scale(0.54363,1)"><text x="1148.88" y="1523.60">A</text><text x="1150.04" y="1523.60">A</text></g><g transform="scale(0.63092,1)"><text x="1017.76" y="1523.60">M</text><text x="1019.17" y="1523.60">M</text></g><g transform="scale(0.42905,1)"><text x="1551.93" y="1523.60">E</text><text x="1554.32" y="1523.60">E</text><text x="1556.70" y="1523.60">E</text></g><g transform="scale(0.75008,1)"><text x="909.21" y="1523.60">.</text></g><g transform="scale(0.41030,1)"><text x="1685.21" y="1523.60">C</text><text x="1687.83" y="1523.60">C</text><text x="1690.46" y="1523.60">C</text></g><g transform="scale(0.37059,1)"><text x="1912.87" y="1523.60">O</text><text x="1916.08" y="1523.60">O</text><text x="1919.30" y="1523.60">O</text></g><g transform="scale(0.64454,1)"><text x="1125.13" y="1523.60">M</text><text x="1126.39" y="1523.60">M</text></g></g>
</svg></div></body></html>
